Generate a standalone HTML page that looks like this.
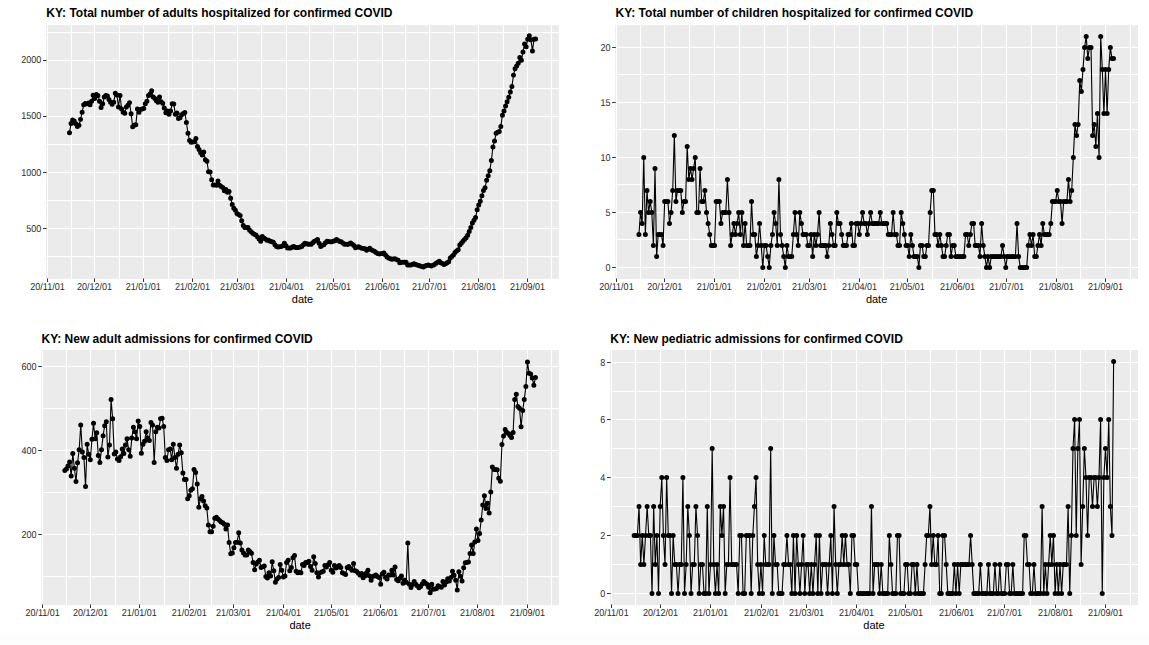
<!DOCTYPE html>
<html><head><meta charset="utf-8"><style>
html,body{margin:0;padding:0;background:#fff;}
svg{display:block;}
.ax{font-family:"Liberation Sans",sans-serif;font-size:10px;fill:#2a2a2a;text-rendering:geometricPrecision;}
.at{font-family:"Liberation Sans",sans-serif;font-size:11px;fill:#000;}
.ti{font-family:"Liberation Sans",sans-serif;font-size:12px;font-weight:bold;fill:#000;}
</style></head><body>
<svg width="1149" height="645" viewBox="0 0 1149 645">
<rect x="0" y="633" width="1149" height="12" fill="#FDFDFD"/>
<rect x="46" y="25" width="513" height="254" fill="#EBEBEB"/>
<path d="M71.5 25V279M119.5 25V279M168.5 25V279M214.5 25V279M261.5 25V279M309.5 25V279M357.5 25V279M405.5 25V279M454.5 25V279M503.5 25V279M551.5 25V279M46 256.5H559M46 200.5H559M46 144.5H559M46 88.5H559M46 32.5H559" stroke="#fff" stroke-width="1" fill="none"/>
<path d="M47.5 25V279M94.5 25V279M143.5 25V279M192.5 25V279M237.5 25V279M286.5 25V279M333.5 25V279M382.5 25V279M429.5 25V279M478.5 25V279M527.5 25V279M46 228.5H559M46 172.5H559M46 116.5H559M46 60.5H559" stroke="#fff" stroke-width="1" fill="none"/>
<path d="M47.5 278.4v3.6M94.5 278.4v3.6M143.5 278.4v3.6M192.5 278.4v3.6M237.5 278.4v3.6M286.5 278.4v3.6M333.5 278.4v3.6M382.5 278.4v3.6M429.5 278.4v3.6M478.5 278.4v3.6M527.5 278.4v3.6M46.6 228.5h-3.6M46.6 172.5h-3.6M46.6 116.5h-3.6M46.6 60.5h-3.6" stroke="#333" stroke-width="1" fill="none"/>
<text transform="translate(47.47 290.1) scale(0.9 1)" class="ax" text-anchor="middle">20/11/01</text>
<text transform="translate(94.54 290.1) scale(0.9 1)" class="ax" text-anchor="middle">20/12/01</text>
<text transform="translate(143.3 290.1) scale(0.9 1)" class="ax" text-anchor="middle">21/01/01</text>
<text transform="translate(192.4 290.1) scale(0.9 1)" class="ax" text-anchor="middle">21/02/01</text>
<text transform="translate(237.55 290.1) scale(0.9 1)" class="ax" text-anchor="middle">21/03/01</text>
<text transform="translate(286.5 290.1) scale(0.9 1)" class="ax" text-anchor="middle">21/04/01</text>
<text transform="translate(333.5 290.1) scale(0.9 1)" class="ax" text-anchor="middle">21/05/01</text>
<text transform="translate(382.4 290.1) scale(0.9 1)" class="ax" text-anchor="middle">21/06/01</text>
<text transform="translate(429.55 290.1) scale(0.9 1)" class="ax" text-anchor="middle">21/07/01</text>
<text transform="translate(478.65 290.1) scale(0.9 1)" class="ax" text-anchor="middle">21/08/01</text>
<text transform="translate(527.5 290.1) scale(0.9 1)" class="ax" text-anchor="middle">21/09/01</text>
<text transform="translate(41.2 232) scale(0.9 1)" class="ax" text-anchor="end">500</text>
<text transform="translate(41.2 176) scale(0.9 1)" class="ax" text-anchor="end">1000</text>
<text transform="translate(41.2 119) scale(0.9 1)" class="ax" text-anchor="end">1500</text>
<text transform="translate(41.2 63) scale(0.9 1)" class="ax" text-anchor="end">2000</text>
<text x="302.5" y="302.7" class="at" text-anchor="middle">date</text>
<text x="46.3" y="17" class="ti">KY: Total number of adults hospitalized for confirmed COVID</text>
<polyline points="69.48,132.83 71.06,123.43 72.64,119.99 74.22,121.03 75.8,123.77 77.38,126.51 78.96,125.21 80.54,119.46 82.12,112.36 83.7,104.63 85.28,103.59 86.86,103.8 88.44,102.96 90.02,104.84 91.6,101.19 93.18,95.23 94.76,98.58 96.34,94.4 97.92,95.44 99.5,101.19 101.08,107.45 102.66,103.8 104.24,97.01 105.82,95.44 107.4,95.97 108.98,99.62 110.56,102.23 112.14,104.32 113.72,102.23 115.3,93.36 116.88,94.92 118.46,106.93 120.04,95.44 121.62,109.02 123.2,112.15 124.78,113.2 126.36,106.93 127.94,105.37 129.52,102.75 131.1,113.72 132.68,126.78 134.26,125.21 135.84,124.69 137.42,109.02 139,112.15 140.58,109.54 142.16,109.02 143.74,108.5 145.32,103.8 146.9,101.19 148.48,95.44 150.06,93.88 151.64,90.74 153.22,97.01 154.8,98.58 156.38,100.67 157.96,102.23 159.54,97.01 161.12,101.71 162.7,103.28 164.28,107.98 165.86,112.68 167.44,111.11 169.02,114.24 170.6,110.98 172.18,103.8 173.76,104.1 175.34,114.24 176.92,112.93 178.5,118.6 180.08,117.83 181.66,114.73 183.24,113.57 184.82,112.4 186.4,122.48 187.98,133.33 189.56,140.62 191.14,142.17 192.72,142.02 194.3,141.86 195.88,138.45 197.46,146.51 199.04,149.61 200.62,152.71 202.2,155.04 203.78,151.94 205.37,159.69 206.95,161.24 208.53,171.63 210.11,172.09 211.69,179.84 213.27,184.96 214.85,185.12 216.43,185.27 218.01,180.93 219.59,185.27 221.17,186.43 222.75,187.6 224.33,190.7 225.91,189.61 227.49,192.17 229.07,191.47 230.65,198.17 232.23,204.62 233.81,208.28 235.39,210.37 236.97,213.5 238.55,214.54 240.13,215.59 241.71,220.81 243.29,225.51 244.87,227.6 246.45,227.6 248.03,227.6 249.61,230.21 251.19,231.78 252.77,233.34 254.35,234.13 255.93,234.91 257.51,237 259.09,239.09 260.67,241.17 262.25,236.48 263.83,238.04 265.41,239.09 266.99,240.13 268.57,240.13 270.15,241.17 271.73,241.7 273.31,242.22 274.89,244.83 276.47,246.4 278.05,246.92 279.63,246.66 281.21,246.4 282.79,245.87 284.37,243.26 285.95,245.87 287.53,247.96 289.11,247.96 290.69,247.96 292.27,246.92 293.85,246.4 295.43,247.44 297.01,247.44 298.59,247.44 300.17,246.92 301.75,246.4 303.33,244.83 304.91,243.26 306.49,243.79 308.07,244.31 309.65,244.31 311.23,244.31 312.81,242.74 314.39,241.17 315.97,240.39 317.55,239.61 319.13,243.26 320.71,246.4 322.29,245.61 323.87,244.83 325.45,242.74 327.03,241.17 328.61,241.44 330.19,241.7 331.77,241.7 333.35,241.17 334.93,240.65 336.51,239.61 338.09,240.58 339.67,241.55 341.25,241.7 342.83,242.98 344.41,244.16 345.99,244.35 347.57,244.54 349.15,243.76 350.73,242.98 352.31,244.28 353.89,245.59 355.47,247.68 357.05,247.15 358.63,246.63 360.21,247.42 361.79,248.2 363.38,248.46 364.96,248.72 366.54,250.29 368.12,249.24 369.7,248.2 371.28,249.77 372.86,250.55 374.44,251.33 376.02,252.38 377.6,253.42 379.18,253.94 380.76,253.68 382.34,253.42 383.92,252.9 385.5,254.99 387.08,257.08 388.66,258.12 390.24,258.64 391.82,259.16 393.4,258.9 394.98,258.64 396.56,259.43 398.14,260.21 399.72,262.82 401.3,262.56 402.88,262.3 404.46,262.3 406.04,262.3 407.62,264.91 409.2,264.91 410.78,264.91 412.36,264.39 413.94,263.86 415.52,264.39 417.1,264.91 418.68,265.43 420.26,265.95 421.84,266.48 423.42,267 425,265.95 426.58,265.43 428.16,264.91 429.74,265.43 431.32,265.95 432.9,265.17 434.48,264.39 436.06,263.34 437.64,262.3 439.22,261.25 440.8,262.82 442.38,263.6 443.96,264.39 445.54,263.86 447.12,262.82 448.7,261.78 450.28,258.12 451.86,256.55 453.44,254.99 455.02,252.38 456.6,251.07 458.18,249.77 459.76,245.07 461.34,243.22 462.92,241.37 464.5,239.52 466.08,237.67 467.66,235.35 469.24,231.47 470.82,227.6 472.4,222.95 473.98,220.23 475.56,217.52 477.14,209.77 478.72,205.12 480.3,201.24 481.88,195.81 483.46,190.39 485.04,187.75 486.62,180.31 488.2,175.66 489.78,170.7 491.36,160.47 492.94,146.98 494.52,141.03 496.1,133.28 497.68,132.35 499.26,131.42 500.84,126.4 502.42,115.23 504,110.95 505.58,105.93 507.16,101.65 508.74,97.19 510.32,91.98 511.9,86.4 513.48,75.23 515.06,68.72 516.64,65.93 518.22,63.14 519.8,57.56 521.38,60.35 522.97,51.9 524.55,44 526.13,46.7 527.71,39.3 529.29,35.8 530.87,39.7 532.45,50.9 534.03,39.3 535.61,39.1" fill="none" stroke="#000" stroke-width="1.1" stroke-linejoin="round"/>
<path d="M66.98 132.83a2.5 2.5 0 1 0 5 0a2.5 2.5 0 1 0 -5 0M68.56 123.43a2.5 2.5 0 1 0 5 0a2.5 2.5 0 1 0 -5 0M70.14 119.99a2.5 2.5 0 1 0 5 0a2.5 2.5 0 1 0 -5 0M71.72 121.03a2.5 2.5 0 1 0 5 0a2.5 2.5 0 1 0 -5 0M73.3 123.77a2.5 2.5 0 1 0 5 0a2.5 2.5 0 1 0 -5 0M74.88 126.51a2.5 2.5 0 1 0 5 0a2.5 2.5 0 1 0 -5 0M76.46 125.21a2.5 2.5 0 1 0 5 0a2.5 2.5 0 1 0 -5 0M78.04 119.46a2.5 2.5 0 1 0 5 0a2.5 2.5 0 1 0 -5 0M79.62 112.36a2.5 2.5 0 1 0 5 0a2.5 2.5 0 1 0 -5 0M81.2 104.63a2.5 2.5 0 1 0 5 0a2.5 2.5 0 1 0 -5 0M82.78 103.59a2.5 2.5 0 1 0 5 0a2.5 2.5 0 1 0 -5 0M84.36 103.8a2.5 2.5 0 1 0 5 0a2.5 2.5 0 1 0 -5 0M85.94 102.96a2.5 2.5 0 1 0 5 0a2.5 2.5 0 1 0 -5 0M87.52 104.84a2.5 2.5 0 1 0 5 0a2.5 2.5 0 1 0 -5 0M89.1 101.19a2.5 2.5 0 1 0 5 0a2.5 2.5 0 1 0 -5 0M90.68 95.23a2.5 2.5 0 1 0 5 0a2.5 2.5 0 1 0 -5 0M92.26 98.58a2.5 2.5 0 1 0 5 0a2.5 2.5 0 1 0 -5 0M93.84 94.4a2.5 2.5 0 1 0 5 0a2.5 2.5 0 1 0 -5 0M95.42 95.44a2.5 2.5 0 1 0 5 0a2.5 2.5 0 1 0 -5 0M97 101.19a2.5 2.5 0 1 0 5 0a2.5 2.5 0 1 0 -5 0M98.58 107.45a2.5 2.5 0 1 0 5 0a2.5 2.5 0 1 0 -5 0M100.16 103.8a2.5 2.5 0 1 0 5 0a2.5 2.5 0 1 0 -5 0M101.74 97.01a2.5 2.5 0 1 0 5 0a2.5 2.5 0 1 0 -5 0M103.32 95.44a2.5 2.5 0 1 0 5 0a2.5 2.5 0 1 0 -5 0M104.9 95.97a2.5 2.5 0 1 0 5 0a2.5 2.5 0 1 0 -5 0M106.48 99.62a2.5 2.5 0 1 0 5 0a2.5 2.5 0 1 0 -5 0M108.06 102.23a2.5 2.5 0 1 0 5 0a2.5 2.5 0 1 0 -5 0M109.64 104.32a2.5 2.5 0 1 0 5 0a2.5 2.5 0 1 0 -5 0M111.22 102.23a2.5 2.5 0 1 0 5 0a2.5 2.5 0 1 0 -5 0M112.8 93.36a2.5 2.5 0 1 0 5 0a2.5 2.5 0 1 0 -5 0M114.38 94.92a2.5 2.5 0 1 0 5 0a2.5 2.5 0 1 0 -5 0M115.96 106.93a2.5 2.5 0 1 0 5 0a2.5 2.5 0 1 0 -5 0M117.54 95.44a2.5 2.5 0 1 0 5 0a2.5 2.5 0 1 0 -5 0M119.12 109.02a2.5 2.5 0 1 0 5 0a2.5 2.5 0 1 0 -5 0M120.7 112.15a2.5 2.5 0 1 0 5 0a2.5 2.5 0 1 0 -5 0M122.28 113.2a2.5 2.5 0 1 0 5 0a2.5 2.5 0 1 0 -5 0M123.86 106.93a2.5 2.5 0 1 0 5 0a2.5 2.5 0 1 0 -5 0M125.44 105.37a2.5 2.5 0 1 0 5 0a2.5 2.5 0 1 0 -5 0M127.02 102.75a2.5 2.5 0 1 0 5 0a2.5 2.5 0 1 0 -5 0M128.6 113.72a2.5 2.5 0 1 0 5 0a2.5 2.5 0 1 0 -5 0M130.18 126.78a2.5 2.5 0 1 0 5 0a2.5 2.5 0 1 0 -5 0M131.76 125.21a2.5 2.5 0 1 0 5 0a2.5 2.5 0 1 0 -5 0M133.34 124.69a2.5 2.5 0 1 0 5 0a2.5 2.5 0 1 0 -5 0M134.92 109.02a2.5 2.5 0 1 0 5 0a2.5 2.5 0 1 0 -5 0M136.5 112.15a2.5 2.5 0 1 0 5 0a2.5 2.5 0 1 0 -5 0M138.08 109.54a2.5 2.5 0 1 0 5 0a2.5 2.5 0 1 0 -5 0M139.66 109.02a2.5 2.5 0 1 0 5 0a2.5 2.5 0 1 0 -5 0M141.24 108.5a2.5 2.5 0 1 0 5 0a2.5 2.5 0 1 0 -5 0M142.82 103.8a2.5 2.5 0 1 0 5 0a2.5 2.5 0 1 0 -5 0M144.4 101.19a2.5 2.5 0 1 0 5 0a2.5 2.5 0 1 0 -5 0M145.98 95.44a2.5 2.5 0 1 0 5 0a2.5 2.5 0 1 0 -5 0M147.56 93.88a2.5 2.5 0 1 0 5 0a2.5 2.5 0 1 0 -5 0M149.14 90.74a2.5 2.5 0 1 0 5 0a2.5 2.5 0 1 0 -5 0M150.72 97.01a2.5 2.5 0 1 0 5 0a2.5 2.5 0 1 0 -5 0M152.3 98.58a2.5 2.5 0 1 0 5 0a2.5 2.5 0 1 0 -5 0M153.88 100.67a2.5 2.5 0 1 0 5 0a2.5 2.5 0 1 0 -5 0M155.46 102.23a2.5 2.5 0 1 0 5 0a2.5 2.5 0 1 0 -5 0M157.04 97.01a2.5 2.5 0 1 0 5 0a2.5 2.5 0 1 0 -5 0M158.62 101.71a2.5 2.5 0 1 0 5 0a2.5 2.5 0 1 0 -5 0M160.2 103.28a2.5 2.5 0 1 0 5 0a2.5 2.5 0 1 0 -5 0M161.78 107.98a2.5 2.5 0 1 0 5 0a2.5 2.5 0 1 0 -5 0M163.36 112.68a2.5 2.5 0 1 0 5 0a2.5 2.5 0 1 0 -5 0M164.94 111.11a2.5 2.5 0 1 0 5 0a2.5 2.5 0 1 0 -5 0M166.52 114.24a2.5 2.5 0 1 0 5 0a2.5 2.5 0 1 0 -5 0M168.1 110.98a2.5 2.5 0 1 0 5 0a2.5 2.5 0 1 0 -5 0M169.68 103.8a2.5 2.5 0 1 0 5 0a2.5 2.5 0 1 0 -5 0M171.26 104.1a2.5 2.5 0 1 0 5 0a2.5 2.5 0 1 0 -5 0M172.84 114.24a2.5 2.5 0 1 0 5 0a2.5 2.5 0 1 0 -5 0M174.42 112.93a2.5 2.5 0 1 0 5 0a2.5 2.5 0 1 0 -5 0M176 118.6a2.5 2.5 0 1 0 5 0a2.5 2.5 0 1 0 -5 0M177.58 117.83a2.5 2.5 0 1 0 5 0a2.5 2.5 0 1 0 -5 0M179.16 114.73a2.5 2.5 0 1 0 5 0a2.5 2.5 0 1 0 -5 0M180.74 113.57a2.5 2.5 0 1 0 5 0a2.5 2.5 0 1 0 -5 0M182.32 112.4a2.5 2.5 0 1 0 5 0a2.5 2.5 0 1 0 -5 0M183.9 122.48a2.5 2.5 0 1 0 5 0a2.5 2.5 0 1 0 -5 0M185.48 133.33a2.5 2.5 0 1 0 5 0a2.5 2.5 0 1 0 -5 0M187.06 140.62a2.5 2.5 0 1 0 5 0a2.5 2.5 0 1 0 -5 0M188.64 142.17a2.5 2.5 0 1 0 5 0a2.5 2.5 0 1 0 -5 0M190.22 142.02a2.5 2.5 0 1 0 5 0a2.5 2.5 0 1 0 -5 0M191.8 141.86a2.5 2.5 0 1 0 5 0a2.5 2.5 0 1 0 -5 0M193.38 138.45a2.5 2.5 0 1 0 5 0a2.5 2.5 0 1 0 -5 0M194.96 146.51a2.5 2.5 0 1 0 5 0a2.5 2.5 0 1 0 -5 0M196.54 149.61a2.5 2.5 0 1 0 5 0a2.5 2.5 0 1 0 -5 0M198.12 152.71a2.5 2.5 0 1 0 5 0a2.5 2.5 0 1 0 -5 0M199.7 155.04a2.5 2.5 0 1 0 5 0a2.5 2.5 0 1 0 -5 0M201.28 151.94a2.5 2.5 0 1 0 5 0a2.5 2.5 0 1 0 -5 0M202.87 159.69a2.5 2.5 0 1 0 5 0a2.5 2.5 0 1 0 -5 0M204.45 161.24a2.5 2.5 0 1 0 5 0a2.5 2.5 0 1 0 -5 0M206.03 171.63a2.5 2.5 0 1 0 5 0a2.5 2.5 0 1 0 -5 0M207.61 172.09a2.5 2.5 0 1 0 5 0a2.5 2.5 0 1 0 -5 0M209.19 179.84a2.5 2.5 0 1 0 5 0a2.5 2.5 0 1 0 -5 0M210.77 184.96a2.5 2.5 0 1 0 5 0a2.5 2.5 0 1 0 -5 0M212.35 185.12a2.5 2.5 0 1 0 5 0a2.5 2.5 0 1 0 -5 0M213.93 185.27a2.5 2.5 0 1 0 5 0a2.5 2.5 0 1 0 -5 0M215.51 180.93a2.5 2.5 0 1 0 5 0a2.5 2.5 0 1 0 -5 0M217.09 185.27a2.5 2.5 0 1 0 5 0a2.5 2.5 0 1 0 -5 0M218.67 186.43a2.5 2.5 0 1 0 5 0a2.5 2.5 0 1 0 -5 0M220.25 187.6a2.5 2.5 0 1 0 5 0a2.5 2.5 0 1 0 -5 0M221.83 190.7a2.5 2.5 0 1 0 5 0a2.5 2.5 0 1 0 -5 0M223.41 189.61a2.5 2.5 0 1 0 5 0a2.5 2.5 0 1 0 -5 0M224.99 192.17a2.5 2.5 0 1 0 5 0a2.5 2.5 0 1 0 -5 0M226.57 191.47a2.5 2.5 0 1 0 5 0a2.5 2.5 0 1 0 -5 0M228.15 198.17a2.5 2.5 0 1 0 5 0a2.5 2.5 0 1 0 -5 0M229.73 204.62a2.5 2.5 0 1 0 5 0a2.5 2.5 0 1 0 -5 0M231.31 208.28a2.5 2.5 0 1 0 5 0a2.5 2.5 0 1 0 -5 0M232.89 210.37a2.5 2.5 0 1 0 5 0a2.5 2.5 0 1 0 -5 0M234.47 213.5a2.5 2.5 0 1 0 5 0a2.5 2.5 0 1 0 -5 0M236.05 214.54a2.5 2.5 0 1 0 5 0a2.5 2.5 0 1 0 -5 0M237.63 215.59a2.5 2.5 0 1 0 5 0a2.5 2.5 0 1 0 -5 0M239.21 220.81a2.5 2.5 0 1 0 5 0a2.5 2.5 0 1 0 -5 0M240.79 225.51a2.5 2.5 0 1 0 5 0a2.5 2.5 0 1 0 -5 0M242.37 227.6a2.5 2.5 0 1 0 5 0a2.5 2.5 0 1 0 -5 0M243.95 227.6a2.5 2.5 0 1 0 5 0a2.5 2.5 0 1 0 -5 0M245.53 227.6a2.5 2.5 0 1 0 5 0a2.5 2.5 0 1 0 -5 0M247.11 230.21a2.5 2.5 0 1 0 5 0a2.5 2.5 0 1 0 -5 0M248.69 231.78a2.5 2.5 0 1 0 5 0a2.5 2.5 0 1 0 -5 0M250.27 233.34a2.5 2.5 0 1 0 5 0a2.5 2.5 0 1 0 -5 0M251.85 234.13a2.5 2.5 0 1 0 5 0a2.5 2.5 0 1 0 -5 0M253.43 234.91a2.5 2.5 0 1 0 5 0a2.5 2.5 0 1 0 -5 0M255.01 237a2.5 2.5 0 1 0 5 0a2.5 2.5 0 1 0 -5 0M256.59 239.09a2.5 2.5 0 1 0 5 0a2.5 2.5 0 1 0 -5 0M258.17 241.17a2.5 2.5 0 1 0 5 0a2.5 2.5 0 1 0 -5 0M259.75 236.48a2.5 2.5 0 1 0 5 0a2.5 2.5 0 1 0 -5 0M261.33 238.04a2.5 2.5 0 1 0 5 0a2.5 2.5 0 1 0 -5 0M262.91 239.09a2.5 2.5 0 1 0 5 0a2.5 2.5 0 1 0 -5 0M264.49 240.13a2.5 2.5 0 1 0 5 0a2.5 2.5 0 1 0 -5 0M266.07 240.13a2.5 2.5 0 1 0 5 0a2.5 2.5 0 1 0 -5 0M267.65 241.17a2.5 2.5 0 1 0 5 0a2.5 2.5 0 1 0 -5 0M269.23 241.7a2.5 2.5 0 1 0 5 0a2.5 2.5 0 1 0 -5 0M270.81 242.22a2.5 2.5 0 1 0 5 0a2.5 2.5 0 1 0 -5 0M272.39 244.83a2.5 2.5 0 1 0 5 0a2.5 2.5 0 1 0 -5 0M273.97 246.4a2.5 2.5 0 1 0 5 0a2.5 2.5 0 1 0 -5 0M275.55 246.92a2.5 2.5 0 1 0 5 0a2.5 2.5 0 1 0 -5 0M277.13 246.66a2.5 2.5 0 1 0 5 0a2.5 2.5 0 1 0 -5 0M278.71 246.4a2.5 2.5 0 1 0 5 0a2.5 2.5 0 1 0 -5 0M280.29 245.87a2.5 2.5 0 1 0 5 0a2.5 2.5 0 1 0 -5 0M281.87 243.26a2.5 2.5 0 1 0 5 0a2.5 2.5 0 1 0 -5 0M283.45 245.87a2.5 2.5 0 1 0 5 0a2.5 2.5 0 1 0 -5 0M285.03 247.96a2.5 2.5 0 1 0 5 0a2.5 2.5 0 1 0 -5 0M286.61 247.96a2.5 2.5 0 1 0 5 0a2.5 2.5 0 1 0 -5 0M288.19 247.96a2.5 2.5 0 1 0 5 0a2.5 2.5 0 1 0 -5 0M289.77 246.92a2.5 2.5 0 1 0 5 0a2.5 2.5 0 1 0 -5 0M291.35 246.4a2.5 2.5 0 1 0 5 0a2.5 2.5 0 1 0 -5 0M292.93 247.44a2.5 2.5 0 1 0 5 0a2.5 2.5 0 1 0 -5 0M294.51 247.44a2.5 2.5 0 1 0 5 0a2.5 2.5 0 1 0 -5 0M296.09 247.44a2.5 2.5 0 1 0 5 0a2.5 2.5 0 1 0 -5 0M297.67 246.92a2.5 2.5 0 1 0 5 0a2.5 2.5 0 1 0 -5 0M299.25 246.4a2.5 2.5 0 1 0 5 0a2.5 2.5 0 1 0 -5 0M300.83 244.83a2.5 2.5 0 1 0 5 0a2.5 2.5 0 1 0 -5 0M302.41 243.26a2.5 2.5 0 1 0 5 0a2.5 2.5 0 1 0 -5 0M303.99 243.79a2.5 2.5 0 1 0 5 0a2.5 2.5 0 1 0 -5 0M305.57 244.31a2.5 2.5 0 1 0 5 0a2.5 2.5 0 1 0 -5 0M307.15 244.31a2.5 2.5 0 1 0 5 0a2.5 2.5 0 1 0 -5 0M308.73 244.31a2.5 2.5 0 1 0 5 0a2.5 2.5 0 1 0 -5 0M310.31 242.74a2.5 2.5 0 1 0 5 0a2.5 2.5 0 1 0 -5 0M311.89 241.17a2.5 2.5 0 1 0 5 0a2.5 2.5 0 1 0 -5 0M313.47 240.39a2.5 2.5 0 1 0 5 0a2.5 2.5 0 1 0 -5 0M315.05 239.61a2.5 2.5 0 1 0 5 0a2.5 2.5 0 1 0 -5 0M316.63 243.26a2.5 2.5 0 1 0 5 0a2.5 2.5 0 1 0 -5 0M318.21 246.4a2.5 2.5 0 1 0 5 0a2.5 2.5 0 1 0 -5 0M319.79 245.61a2.5 2.5 0 1 0 5 0a2.5 2.5 0 1 0 -5 0M321.37 244.83a2.5 2.5 0 1 0 5 0a2.5 2.5 0 1 0 -5 0M322.95 242.74a2.5 2.5 0 1 0 5 0a2.5 2.5 0 1 0 -5 0M324.53 241.17a2.5 2.5 0 1 0 5 0a2.5 2.5 0 1 0 -5 0M326.11 241.44a2.5 2.5 0 1 0 5 0a2.5 2.5 0 1 0 -5 0M327.69 241.7a2.5 2.5 0 1 0 5 0a2.5 2.5 0 1 0 -5 0M329.27 241.7a2.5 2.5 0 1 0 5 0a2.5 2.5 0 1 0 -5 0M330.85 241.17a2.5 2.5 0 1 0 5 0a2.5 2.5 0 1 0 -5 0M332.43 240.65a2.5 2.5 0 1 0 5 0a2.5 2.5 0 1 0 -5 0M334.01 239.61a2.5 2.5 0 1 0 5 0a2.5 2.5 0 1 0 -5 0M335.59 240.58a2.5 2.5 0 1 0 5 0a2.5 2.5 0 1 0 -5 0M337.17 241.55a2.5 2.5 0 1 0 5 0a2.5 2.5 0 1 0 -5 0M338.75 241.7a2.5 2.5 0 1 0 5 0a2.5 2.5 0 1 0 -5 0M340.33 242.98a2.5 2.5 0 1 0 5 0a2.5 2.5 0 1 0 -5 0M341.91 244.16a2.5 2.5 0 1 0 5 0a2.5 2.5 0 1 0 -5 0M343.49 244.35a2.5 2.5 0 1 0 5 0a2.5 2.5 0 1 0 -5 0M345.07 244.54a2.5 2.5 0 1 0 5 0a2.5 2.5 0 1 0 -5 0M346.65 243.76a2.5 2.5 0 1 0 5 0a2.5 2.5 0 1 0 -5 0M348.23 242.98a2.5 2.5 0 1 0 5 0a2.5 2.5 0 1 0 -5 0M349.81 244.28a2.5 2.5 0 1 0 5 0a2.5 2.5 0 1 0 -5 0M351.39 245.59a2.5 2.5 0 1 0 5 0a2.5 2.5 0 1 0 -5 0M352.97 247.68a2.5 2.5 0 1 0 5 0a2.5 2.5 0 1 0 -5 0M354.55 247.15a2.5 2.5 0 1 0 5 0a2.5 2.5 0 1 0 -5 0M356.13 246.63a2.5 2.5 0 1 0 5 0a2.5 2.5 0 1 0 -5 0M357.71 247.42a2.5 2.5 0 1 0 5 0a2.5 2.5 0 1 0 -5 0M359.29 248.2a2.5 2.5 0 1 0 5 0a2.5 2.5 0 1 0 -5 0M360.88 248.46a2.5 2.5 0 1 0 5 0a2.5 2.5 0 1 0 -5 0M362.46 248.72a2.5 2.5 0 1 0 5 0a2.5 2.5 0 1 0 -5 0M364.04 250.29a2.5 2.5 0 1 0 5 0a2.5 2.5 0 1 0 -5 0M365.62 249.24a2.5 2.5 0 1 0 5 0a2.5 2.5 0 1 0 -5 0M367.2 248.2a2.5 2.5 0 1 0 5 0a2.5 2.5 0 1 0 -5 0M368.78 249.77a2.5 2.5 0 1 0 5 0a2.5 2.5 0 1 0 -5 0M370.36 250.55a2.5 2.5 0 1 0 5 0a2.5 2.5 0 1 0 -5 0M371.94 251.33a2.5 2.5 0 1 0 5 0a2.5 2.5 0 1 0 -5 0M373.52 252.38a2.5 2.5 0 1 0 5 0a2.5 2.5 0 1 0 -5 0M375.1 253.42a2.5 2.5 0 1 0 5 0a2.5 2.5 0 1 0 -5 0M376.68 253.94a2.5 2.5 0 1 0 5 0a2.5 2.5 0 1 0 -5 0M378.26 253.68a2.5 2.5 0 1 0 5 0a2.5 2.5 0 1 0 -5 0M379.84 253.42a2.5 2.5 0 1 0 5 0a2.5 2.5 0 1 0 -5 0M381.42 252.9a2.5 2.5 0 1 0 5 0a2.5 2.5 0 1 0 -5 0M383 254.99a2.5 2.5 0 1 0 5 0a2.5 2.5 0 1 0 -5 0M384.58 257.08a2.5 2.5 0 1 0 5 0a2.5 2.5 0 1 0 -5 0M386.16 258.12a2.5 2.5 0 1 0 5 0a2.5 2.5 0 1 0 -5 0M387.74 258.64a2.5 2.5 0 1 0 5 0a2.5 2.5 0 1 0 -5 0M389.32 259.16a2.5 2.5 0 1 0 5 0a2.5 2.5 0 1 0 -5 0M390.9 258.9a2.5 2.5 0 1 0 5 0a2.5 2.5 0 1 0 -5 0M392.48 258.64a2.5 2.5 0 1 0 5 0a2.5 2.5 0 1 0 -5 0M394.06 259.43a2.5 2.5 0 1 0 5 0a2.5 2.5 0 1 0 -5 0M395.64 260.21a2.5 2.5 0 1 0 5 0a2.5 2.5 0 1 0 -5 0M397.22 262.82a2.5 2.5 0 1 0 5 0a2.5 2.5 0 1 0 -5 0M398.8 262.56a2.5 2.5 0 1 0 5 0a2.5 2.5 0 1 0 -5 0M400.38 262.3a2.5 2.5 0 1 0 5 0a2.5 2.5 0 1 0 -5 0M401.96 262.3a2.5 2.5 0 1 0 5 0a2.5 2.5 0 1 0 -5 0M403.54 262.3a2.5 2.5 0 1 0 5 0a2.5 2.5 0 1 0 -5 0M405.12 264.91a2.5 2.5 0 1 0 5 0a2.5 2.5 0 1 0 -5 0M406.7 264.91a2.5 2.5 0 1 0 5 0a2.5 2.5 0 1 0 -5 0M408.28 264.91a2.5 2.5 0 1 0 5 0a2.5 2.5 0 1 0 -5 0M409.86 264.39a2.5 2.5 0 1 0 5 0a2.5 2.5 0 1 0 -5 0M411.44 263.86a2.5 2.5 0 1 0 5 0a2.5 2.5 0 1 0 -5 0M413.02 264.39a2.5 2.5 0 1 0 5 0a2.5 2.5 0 1 0 -5 0M414.6 264.91a2.5 2.5 0 1 0 5 0a2.5 2.5 0 1 0 -5 0M416.18 265.43a2.5 2.5 0 1 0 5 0a2.5 2.5 0 1 0 -5 0M417.76 265.95a2.5 2.5 0 1 0 5 0a2.5 2.5 0 1 0 -5 0M419.34 266.48a2.5 2.5 0 1 0 5 0a2.5 2.5 0 1 0 -5 0M420.92 267a2.5 2.5 0 1 0 5 0a2.5 2.5 0 1 0 -5 0M422.5 265.95a2.5 2.5 0 1 0 5 0a2.5 2.5 0 1 0 -5 0M424.08 265.43a2.5 2.5 0 1 0 5 0a2.5 2.5 0 1 0 -5 0M425.66 264.91a2.5 2.5 0 1 0 5 0a2.5 2.5 0 1 0 -5 0M427.24 265.43a2.5 2.5 0 1 0 5 0a2.5 2.5 0 1 0 -5 0M428.82 265.95a2.5 2.5 0 1 0 5 0a2.5 2.5 0 1 0 -5 0M430.4 265.17a2.5 2.5 0 1 0 5 0a2.5 2.5 0 1 0 -5 0M431.98 264.39a2.5 2.5 0 1 0 5 0a2.5 2.5 0 1 0 -5 0M433.56 263.34a2.5 2.5 0 1 0 5 0a2.5 2.5 0 1 0 -5 0M435.14 262.3a2.5 2.5 0 1 0 5 0a2.5 2.5 0 1 0 -5 0M436.72 261.25a2.5 2.5 0 1 0 5 0a2.5 2.5 0 1 0 -5 0M438.3 262.82a2.5 2.5 0 1 0 5 0a2.5 2.5 0 1 0 -5 0M439.88 263.6a2.5 2.5 0 1 0 5 0a2.5 2.5 0 1 0 -5 0M441.46 264.39a2.5 2.5 0 1 0 5 0a2.5 2.5 0 1 0 -5 0M443.04 263.86a2.5 2.5 0 1 0 5 0a2.5 2.5 0 1 0 -5 0M444.62 262.82a2.5 2.5 0 1 0 5 0a2.5 2.5 0 1 0 -5 0M446.2 261.78a2.5 2.5 0 1 0 5 0a2.5 2.5 0 1 0 -5 0M447.78 258.12a2.5 2.5 0 1 0 5 0a2.5 2.5 0 1 0 -5 0M449.36 256.55a2.5 2.5 0 1 0 5 0a2.5 2.5 0 1 0 -5 0M450.94 254.99a2.5 2.5 0 1 0 5 0a2.5 2.5 0 1 0 -5 0M452.52 252.38a2.5 2.5 0 1 0 5 0a2.5 2.5 0 1 0 -5 0M454.1 251.07a2.5 2.5 0 1 0 5 0a2.5 2.5 0 1 0 -5 0M455.68 249.77a2.5 2.5 0 1 0 5 0a2.5 2.5 0 1 0 -5 0M457.26 245.07a2.5 2.5 0 1 0 5 0a2.5 2.5 0 1 0 -5 0M458.84 243.22a2.5 2.5 0 1 0 5 0a2.5 2.5 0 1 0 -5 0M460.42 241.37a2.5 2.5 0 1 0 5 0a2.5 2.5 0 1 0 -5 0M462 239.52a2.5 2.5 0 1 0 5 0a2.5 2.5 0 1 0 -5 0M463.58 237.67a2.5 2.5 0 1 0 5 0a2.5 2.5 0 1 0 -5 0M465.16 235.35a2.5 2.5 0 1 0 5 0a2.5 2.5 0 1 0 -5 0M466.74 231.47a2.5 2.5 0 1 0 5 0a2.5 2.5 0 1 0 -5 0M468.32 227.6a2.5 2.5 0 1 0 5 0a2.5 2.5 0 1 0 -5 0M469.9 222.95a2.5 2.5 0 1 0 5 0a2.5 2.5 0 1 0 -5 0M471.48 220.23a2.5 2.5 0 1 0 5 0a2.5 2.5 0 1 0 -5 0M473.06 217.52a2.5 2.5 0 1 0 5 0a2.5 2.5 0 1 0 -5 0M474.64 209.77a2.5 2.5 0 1 0 5 0a2.5 2.5 0 1 0 -5 0M476.22 205.12a2.5 2.5 0 1 0 5 0a2.5 2.5 0 1 0 -5 0M477.8 201.24a2.5 2.5 0 1 0 5 0a2.5 2.5 0 1 0 -5 0M479.38 195.81a2.5 2.5 0 1 0 5 0a2.5 2.5 0 1 0 -5 0M480.96 190.39a2.5 2.5 0 1 0 5 0a2.5 2.5 0 1 0 -5 0M482.54 187.75a2.5 2.5 0 1 0 5 0a2.5 2.5 0 1 0 -5 0M484.12 180.31a2.5 2.5 0 1 0 5 0a2.5 2.5 0 1 0 -5 0M485.7 175.66a2.5 2.5 0 1 0 5 0a2.5 2.5 0 1 0 -5 0M487.28 170.7a2.5 2.5 0 1 0 5 0a2.5 2.5 0 1 0 -5 0M488.86 160.47a2.5 2.5 0 1 0 5 0a2.5 2.5 0 1 0 -5 0M490.44 146.98a2.5 2.5 0 1 0 5 0a2.5 2.5 0 1 0 -5 0M492.02 141.03a2.5 2.5 0 1 0 5 0a2.5 2.5 0 1 0 -5 0M493.6 133.28a2.5 2.5 0 1 0 5 0a2.5 2.5 0 1 0 -5 0M495.18 132.35a2.5 2.5 0 1 0 5 0a2.5 2.5 0 1 0 -5 0M496.76 131.42a2.5 2.5 0 1 0 5 0a2.5 2.5 0 1 0 -5 0M498.34 126.4a2.5 2.5 0 1 0 5 0a2.5 2.5 0 1 0 -5 0M499.92 115.23a2.5 2.5 0 1 0 5 0a2.5 2.5 0 1 0 -5 0M501.5 110.95a2.5 2.5 0 1 0 5 0a2.5 2.5 0 1 0 -5 0M503.08 105.93a2.5 2.5 0 1 0 5 0a2.5 2.5 0 1 0 -5 0M504.66 101.65a2.5 2.5 0 1 0 5 0a2.5 2.5 0 1 0 -5 0M506.24 97.19a2.5 2.5 0 1 0 5 0a2.5 2.5 0 1 0 -5 0M507.82 91.98a2.5 2.5 0 1 0 5 0a2.5 2.5 0 1 0 -5 0M509.4 86.4a2.5 2.5 0 1 0 5 0a2.5 2.5 0 1 0 -5 0M510.98 75.23a2.5 2.5 0 1 0 5 0a2.5 2.5 0 1 0 -5 0M512.56 68.72a2.5 2.5 0 1 0 5 0a2.5 2.5 0 1 0 -5 0M514.14 65.93a2.5 2.5 0 1 0 5 0a2.5 2.5 0 1 0 -5 0M515.72 63.14a2.5 2.5 0 1 0 5 0a2.5 2.5 0 1 0 -5 0M517.3 57.56a2.5 2.5 0 1 0 5 0a2.5 2.5 0 1 0 -5 0M518.88 60.35a2.5 2.5 0 1 0 5 0a2.5 2.5 0 1 0 -5 0M520.47 51.9a2.5 2.5 0 1 0 5 0a2.5 2.5 0 1 0 -5 0M522.05 44a2.5 2.5 0 1 0 5 0a2.5 2.5 0 1 0 -5 0M523.63 46.7a2.5 2.5 0 1 0 5 0a2.5 2.5 0 1 0 -5 0M525.21 39.3a2.5 2.5 0 1 0 5 0a2.5 2.5 0 1 0 -5 0M526.79 35.8a2.5 2.5 0 1 0 5 0a2.5 2.5 0 1 0 -5 0M528.37 39.7a2.5 2.5 0 1 0 5 0a2.5 2.5 0 1 0 -5 0M529.95 50.9a2.5 2.5 0 1 0 5 0a2.5 2.5 0 1 0 -5 0M531.53 39.3a2.5 2.5 0 1 0 5 0a2.5 2.5 0 1 0 -5 0M533.11 39.1a2.5 2.5 0 1 0 5 0a2.5 2.5 0 1 0 -5 0" fill="#000"/>
<rect x="615.2" y="25" width="522.8" height="254" fill="#EBEBEB"/>
<path d="M640.5 25V279M689.5 25V279M739.5 25V279M787.5 25V279M834.5 25V279M883.5 25V279M932.5 25V279M981.5 25V279M1031.5 25V279M1080.5 25V279M1130.5 25V279M615.2 239.5H1138M615.2 184.5H1138M615.2 129.5H1138M615.2 74.5H1138" stroke="#fff" stroke-width="1" fill="none"/>
<path d="M616.5 25V279M664.5 25V279M714.5 25V279M764.5 25V279M809.5 25V279M859.5 25V279M907.5 25V279M957.5 25V279M1006.5 25V279M1056.5 25V279M1105.5 25V279M615.2 267.5H1138M615.2 212.5H1138M615.2 157.5H1138M615.2 102.5H1138M615.2 47.5H1138" stroke="#fff" stroke-width="1" fill="none"/>
<path d="M616.5 278.4v3.6M664.5 278.4v3.6M714.5 278.4v3.6M764.5 278.4v3.6M809.5 278.4v3.6M859.5 278.4v3.6M907.5 278.4v3.6M957.5 278.4v3.6M1006.5 278.4v3.6M1056.5 278.4v3.6M1105.5 278.4v3.6M615.8 267.5h-3.6M615.8 212.5h-3.6M615.8 157.5h-3.6M615.8 102.5h-3.6M615.8 47.5h-3.6" stroke="#333" stroke-width="1" fill="none"/>
<text transform="translate(616.45 290.1) scale(0.9 1)" class="ax" text-anchor="middle">20/11/01</text>
<text transform="translate(664.65 290.1) scale(0.9 1)" class="ax" text-anchor="middle">20/12/01</text>
<text transform="translate(714.3 290.1) scale(0.9 1)" class="ax" text-anchor="middle">21/01/01</text>
<text transform="translate(764.3 290.1) scale(0.9 1)" class="ax" text-anchor="middle">21/02/01</text>
<text transform="translate(809.4 290.1) scale(0.9 1)" class="ax" text-anchor="middle">21/03/01</text>
<text transform="translate(859.6 290.1) scale(0.9 1)" class="ax" text-anchor="middle">21/04/01</text>
<text transform="translate(907.3 290.1) scale(0.9 1)" class="ax" text-anchor="middle">21/05/01</text>
<text transform="translate(957.5 290.1) scale(0.9 1)" class="ax" text-anchor="middle">21/06/01</text>
<text transform="translate(1006.45 290.1) scale(0.9 1)" class="ax" text-anchor="middle">21/07/01</text>
<text transform="translate(1056.35 290.1) scale(0.9 1)" class="ax" text-anchor="middle">21/08/01</text>
<text transform="translate(1105.6 290.1) scale(0.9 1)" class="ax" text-anchor="middle">21/09/01</text>
<text transform="translate(610.4 270.95) scale(0.9 1)" class="ax" text-anchor="end">0</text>
<text transform="translate(610.4 215.95) scale(0.9 1)" class="ax" text-anchor="end">5</text>
<text transform="translate(610.4 160.95) scale(0.9 1)" class="ax" text-anchor="end">10</text>
<text transform="translate(610.4 105.95) scale(0.9 1)" class="ax" text-anchor="end">15</text>
<text transform="translate(610.4 50.95) scale(0.9 1)" class="ax" text-anchor="end">20</text>
<text x="876.6" y="302.7" class="at" text-anchor="middle">date</text>
<text x="615.5" y="17" class="ti">KY: Total number of children hospitalized for confirmed COVID</text>
<polyline points="638.92,234.4 640.53,212.4 642.14,223.4 643.75,157.4 645.36,234.4 646.97,190.4 648.58,212.4 650.19,201.4 651.8,212.4 653.4,245.4 655.01,168.4 656.62,256.4 658.23,234.4 659.84,234.4 661.45,234.4 663.06,245.4 664.67,201.4 666.28,201.4 667.88,201.4 669.49,223.4 671.1,212.4 672.71,190.4 674.32,135.4 675.93,201.4 677.54,190.4 679.15,190.4 680.76,190.4 682.36,212.4 683.97,201.4 685.58,201.4 687.19,146.4 688.8,179.4 690.41,168.4 692.02,179.4 693.63,168.4 695.24,157.4 696.85,212.4 698.45,212.4 700.06,168.4 701.67,201.4 703.28,201.4 704.89,190.4 706.5,212.4 708.11,223.4 709.72,234.4 711.33,245.4 712.93,245.4 714.54,245.4 716.15,201.4 717.76,201.4 719.37,201.4 720.98,223.4 722.59,212.4 724.2,212.4 725.81,212.4 727.41,179.4 729.02,212.4 730.63,245.4 732.24,234.4 733.85,223.4 735.46,234.4 737.07,223.4 738.68,212.4 740.29,234.4 741.89,212.4 743.5,245.4 745.11,223.4 746.72,245.4 748.33,245.4 749.94,245.4 751.55,201.4 753.16,234.4 754.77,234.4 756.37,256.4 757.98,245.4 759.59,223.4 761.2,245.4 762.81,267.4 764.42,245.4 766.03,245.4 767.64,256.4 769.25,267.4 770.85,245.4 772.46,234.4 774.07,212.4 775.68,223.4 777.29,245.4 778.9,179.4 780.51,234.4 782.12,245.4 783.73,256.4 785.33,267.4 786.94,245.4 788.55,256.4 790.16,256.4 791.77,256.4 793.38,234.4 794.99,212.4 796.6,234.4 798.21,245.4 799.81,212.4 801.42,223.4 803.03,234.4 804.64,234.4 806.25,234.4 807.86,245.4 809.47,245.4 811.08,234.4 812.69,256.4 814.29,234.4 815.9,245.4 817.51,234.4 819.12,212.4 820.73,245.4 822.34,245.4 823.95,245.4 825.56,245.4 827.17,256.4 828.77,245.4 830.38,223.4 831.99,234.4 833.6,245.4 835.21,245.4 836.82,212.4 838.43,223.4 840.04,223.4 841.65,234.4 843.25,245.4 844.86,245.4 846.47,245.4 848.08,234.4 849.69,234.4 851.3,223.4 852.91,245.4 854.52,245.4 856.13,223.4 857.74,223.4 859.34,234.4 860.95,223.4 862.56,212.4 864.17,223.4 865.78,223.4 867.39,234.4 869,223.4 870.61,212.4 872.22,223.4 873.82,223.4 875.43,223.4 877.04,223.4 878.65,223.4 880.26,212.4 881.87,223.4 883.48,223.4 885.09,223.4 886.7,223.4 888.3,234.4 889.91,234.4 891.52,234.4 893.13,212.4 894.74,234.4 896.35,234.4 897.96,245.4 899.57,245.4 901.18,212.4 902.78,223.4 904.39,234.4 906,245.4 907.61,245.4 909.22,256.4 910.83,234.4 912.44,245.4 914.05,256.4 915.66,256.4 917.26,256.4 918.87,267.4 920.48,245.4 922.09,245.4 923.7,256.4 925.31,256.4 926.92,245.4 928.53,245.4 930.14,212.4 931.74,190.4 933.35,190.4 934.96,234.4 936.57,234.4 938.18,245.4 939.79,234.4 941.4,245.4 943.01,256.4 944.62,256.4 946.22,245.4 947.83,234.4 949.44,234.4 951.05,256.4 952.66,245.4 954.27,245.4 955.88,256.4 957.49,256.4 959.1,256.4 960.7,256.4 962.31,256.4 963.92,256.4 965.53,234.4 967.14,234.4 968.75,245.4 970.36,234.4 971.97,223.4 973.58,223.4 975.18,245.4 976.79,245.4 978.4,245.4 980.01,256.4 981.62,223.4 983.23,245.4 984.84,256.4 986.45,267.4 988.06,256.4 989.66,267.4 991.27,256.4 992.88,256.4 994.49,256.4 996.1,256.4 997.71,256.4 999.32,256.4 1000.93,256.4 1002.54,245.4 1004.14,256.4 1005.75,267.4 1007.36,256.4 1008.97,256.4 1010.58,256.4 1012.19,256.4 1013.8,256.4 1015.41,256.4 1017.02,223.4 1018.62,256.4 1020.23,267.4 1021.84,267.4 1023.45,267.4 1025.06,267.4 1026.67,267.4 1028.28,245.4 1029.89,234.4 1031.5,245.4 1033.11,234.4 1034.71,256.4 1036.32,256.4 1037.93,245.4 1039.54,234.4 1041.15,245.4 1042.76,223.4 1044.37,234.4 1045.98,234.4 1047.59,234.4 1049.19,234.4 1050.8,223.4 1052.41,201.4 1054.02,201.4 1055.63,201.4 1057.24,190.4 1058.85,201.4 1060.46,201.4 1062.07,223.4 1063.67,201.4 1065.28,201.4 1066.89,201.4 1068.5,179.4 1070.11,201.4 1071.72,190.4 1073.33,157.4 1074.94,124.4 1076.55,135.4 1078.15,124.4 1079.76,80.4 1081.37,91.4 1082.98,69.4 1084.59,47.4 1086.2,36.4 1087.81,58.4 1089.42,47.4 1091.03,47.4 1092.63,135.4 1094.24,124.4 1095.85,146.4 1097.46,113.4 1099.07,157.4 1100.68,36.4 1102.29,69.4 1103.9,113.4 1105.51,69.4 1107.11,113.4 1108.72,69.4 1110.33,47.4 1111.94,58.4 1113.55,58.4" fill="none" stroke="#000" stroke-width="1.1" stroke-linejoin="round"/>
<path d="M636.42 234.4a2.5 2.5 0 1 0 5 0a2.5 2.5 0 1 0 -5 0M638.03 212.4a2.5 2.5 0 1 0 5 0a2.5 2.5 0 1 0 -5 0M639.64 223.4a2.5 2.5 0 1 0 5 0a2.5 2.5 0 1 0 -5 0M641.25 157.4a2.5 2.5 0 1 0 5 0a2.5 2.5 0 1 0 -5 0M642.86 234.4a2.5 2.5 0 1 0 5 0a2.5 2.5 0 1 0 -5 0M644.47 190.4a2.5 2.5 0 1 0 5 0a2.5 2.5 0 1 0 -5 0M646.08 212.4a2.5 2.5 0 1 0 5 0a2.5 2.5 0 1 0 -5 0M647.69 201.4a2.5 2.5 0 1 0 5 0a2.5 2.5 0 1 0 -5 0M649.3 212.4a2.5 2.5 0 1 0 5 0a2.5 2.5 0 1 0 -5 0M650.9 245.4a2.5 2.5 0 1 0 5 0a2.5 2.5 0 1 0 -5 0M652.51 168.4a2.5 2.5 0 1 0 5 0a2.5 2.5 0 1 0 -5 0M654.12 256.4a2.5 2.5 0 1 0 5 0a2.5 2.5 0 1 0 -5 0M655.73 234.4a2.5 2.5 0 1 0 5 0a2.5 2.5 0 1 0 -5 0M657.34 234.4a2.5 2.5 0 1 0 5 0a2.5 2.5 0 1 0 -5 0M658.95 234.4a2.5 2.5 0 1 0 5 0a2.5 2.5 0 1 0 -5 0M660.56 245.4a2.5 2.5 0 1 0 5 0a2.5 2.5 0 1 0 -5 0M662.17 201.4a2.5 2.5 0 1 0 5 0a2.5 2.5 0 1 0 -5 0M663.78 201.4a2.5 2.5 0 1 0 5 0a2.5 2.5 0 1 0 -5 0M665.38 201.4a2.5 2.5 0 1 0 5 0a2.5 2.5 0 1 0 -5 0M666.99 223.4a2.5 2.5 0 1 0 5 0a2.5 2.5 0 1 0 -5 0M668.6 212.4a2.5 2.5 0 1 0 5 0a2.5 2.5 0 1 0 -5 0M670.21 190.4a2.5 2.5 0 1 0 5 0a2.5 2.5 0 1 0 -5 0M671.82 135.4a2.5 2.5 0 1 0 5 0a2.5 2.5 0 1 0 -5 0M673.43 201.4a2.5 2.5 0 1 0 5 0a2.5 2.5 0 1 0 -5 0M675.04 190.4a2.5 2.5 0 1 0 5 0a2.5 2.5 0 1 0 -5 0M676.65 190.4a2.5 2.5 0 1 0 5 0a2.5 2.5 0 1 0 -5 0M678.26 190.4a2.5 2.5 0 1 0 5 0a2.5 2.5 0 1 0 -5 0M679.86 212.4a2.5 2.5 0 1 0 5 0a2.5 2.5 0 1 0 -5 0M681.47 201.4a2.5 2.5 0 1 0 5 0a2.5 2.5 0 1 0 -5 0M683.08 201.4a2.5 2.5 0 1 0 5 0a2.5 2.5 0 1 0 -5 0M684.69 146.4a2.5 2.5 0 1 0 5 0a2.5 2.5 0 1 0 -5 0M686.3 179.4a2.5 2.5 0 1 0 5 0a2.5 2.5 0 1 0 -5 0M687.91 168.4a2.5 2.5 0 1 0 5 0a2.5 2.5 0 1 0 -5 0M689.52 179.4a2.5 2.5 0 1 0 5 0a2.5 2.5 0 1 0 -5 0M691.13 168.4a2.5 2.5 0 1 0 5 0a2.5 2.5 0 1 0 -5 0M692.74 157.4a2.5 2.5 0 1 0 5 0a2.5 2.5 0 1 0 -5 0M694.35 212.4a2.5 2.5 0 1 0 5 0a2.5 2.5 0 1 0 -5 0M695.95 212.4a2.5 2.5 0 1 0 5 0a2.5 2.5 0 1 0 -5 0M697.56 168.4a2.5 2.5 0 1 0 5 0a2.5 2.5 0 1 0 -5 0M699.17 201.4a2.5 2.5 0 1 0 5 0a2.5 2.5 0 1 0 -5 0M700.78 201.4a2.5 2.5 0 1 0 5 0a2.5 2.5 0 1 0 -5 0M702.39 190.4a2.5 2.5 0 1 0 5 0a2.5 2.5 0 1 0 -5 0M704 212.4a2.5 2.5 0 1 0 5 0a2.5 2.5 0 1 0 -5 0M705.61 223.4a2.5 2.5 0 1 0 5 0a2.5 2.5 0 1 0 -5 0M707.22 234.4a2.5 2.5 0 1 0 5 0a2.5 2.5 0 1 0 -5 0M708.83 245.4a2.5 2.5 0 1 0 5 0a2.5 2.5 0 1 0 -5 0M710.43 245.4a2.5 2.5 0 1 0 5 0a2.5 2.5 0 1 0 -5 0M712.04 245.4a2.5 2.5 0 1 0 5 0a2.5 2.5 0 1 0 -5 0M713.65 201.4a2.5 2.5 0 1 0 5 0a2.5 2.5 0 1 0 -5 0M715.26 201.4a2.5 2.5 0 1 0 5 0a2.5 2.5 0 1 0 -5 0M716.87 201.4a2.5 2.5 0 1 0 5 0a2.5 2.5 0 1 0 -5 0M718.48 223.4a2.5 2.5 0 1 0 5 0a2.5 2.5 0 1 0 -5 0M720.09 212.4a2.5 2.5 0 1 0 5 0a2.5 2.5 0 1 0 -5 0M721.7 212.4a2.5 2.5 0 1 0 5 0a2.5 2.5 0 1 0 -5 0M723.31 212.4a2.5 2.5 0 1 0 5 0a2.5 2.5 0 1 0 -5 0M724.91 179.4a2.5 2.5 0 1 0 5 0a2.5 2.5 0 1 0 -5 0M726.52 212.4a2.5 2.5 0 1 0 5 0a2.5 2.5 0 1 0 -5 0M728.13 245.4a2.5 2.5 0 1 0 5 0a2.5 2.5 0 1 0 -5 0M729.74 234.4a2.5 2.5 0 1 0 5 0a2.5 2.5 0 1 0 -5 0M731.35 223.4a2.5 2.5 0 1 0 5 0a2.5 2.5 0 1 0 -5 0M732.96 234.4a2.5 2.5 0 1 0 5 0a2.5 2.5 0 1 0 -5 0M734.57 223.4a2.5 2.5 0 1 0 5 0a2.5 2.5 0 1 0 -5 0M736.18 212.4a2.5 2.5 0 1 0 5 0a2.5 2.5 0 1 0 -5 0M737.79 234.4a2.5 2.5 0 1 0 5 0a2.5 2.5 0 1 0 -5 0M739.39 212.4a2.5 2.5 0 1 0 5 0a2.5 2.5 0 1 0 -5 0M741 245.4a2.5 2.5 0 1 0 5 0a2.5 2.5 0 1 0 -5 0M742.61 223.4a2.5 2.5 0 1 0 5 0a2.5 2.5 0 1 0 -5 0M744.22 245.4a2.5 2.5 0 1 0 5 0a2.5 2.5 0 1 0 -5 0M745.83 245.4a2.5 2.5 0 1 0 5 0a2.5 2.5 0 1 0 -5 0M747.44 245.4a2.5 2.5 0 1 0 5 0a2.5 2.5 0 1 0 -5 0M749.05 201.4a2.5 2.5 0 1 0 5 0a2.5 2.5 0 1 0 -5 0M750.66 234.4a2.5 2.5 0 1 0 5 0a2.5 2.5 0 1 0 -5 0M752.27 234.4a2.5 2.5 0 1 0 5 0a2.5 2.5 0 1 0 -5 0M753.87 256.4a2.5 2.5 0 1 0 5 0a2.5 2.5 0 1 0 -5 0M755.48 245.4a2.5 2.5 0 1 0 5 0a2.5 2.5 0 1 0 -5 0M757.09 223.4a2.5 2.5 0 1 0 5 0a2.5 2.5 0 1 0 -5 0M758.7 245.4a2.5 2.5 0 1 0 5 0a2.5 2.5 0 1 0 -5 0M760.31 267.4a2.5 2.5 0 1 0 5 0a2.5 2.5 0 1 0 -5 0M761.92 245.4a2.5 2.5 0 1 0 5 0a2.5 2.5 0 1 0 -5 0M763.53 245.4a2.5 2.5 0 1 0 5 0a2.5 2.5 0 1 0 -5 0M765.14 256.4a2.5 2.5 0 1 0 5 0a2.5 2.5 0 1 0 -5 0M766.75 267.4a2.5 2.5 0 1 0 5 0a2.5 2.5 0 1 0 -5 0M768.35 245.4a2.5 2.5 0 1 0 5 0a2.5 2.5 0 1 0 -5 0M769.96 234.4a2.5 2.5 0 1 0 5 0a2.5 2.5 0 1 0 -5 0M771.57 212.4a2.5 2.5 0 1 0 5 0a2.5 2.5 0 1 0 -5 0M773.18 223.4a2.5 2.5 0 1 0 5 0a2.5 2.5 0 1 0 -5 0M774.79 245.4a2.5 2.5 0 1 0 5 0a2.5 2.5 0 1 0 -5 0M776.4 179.4a2.5 2.5 0 1 0 5 0a2.5 2.5 0 1 0 -5 0M778.01 234.4a2.5 2.5 0 1 0 5 0a2.5 2.5 0 1 0 -5 0M779.62 245.4a2.5 2.5 0 1 0 5 0a2.5 2.5 0 1 0 -5 0M781.23 256.4a2.5 2.5 0 1 0 5 0a2.5 2.5 0 1 0 -5 0M782.83 267.4a2.5 2.5 0 1 0 5 0a2.5 2.5 0 1 0 -5 0M784.44 245.4a2.5 2.5 0 1 0 5 0a2.5 2.5 0 1 0 -5 0M786.05 256.4a2.5 2.5 0 1 0 5 0a2.5 2.5 0 1 0 -5 0M787.66 256.4a2.5 2.5 0 1 0 5 0a2.5 2.5 0 1 0 -5 0M789.27 256.4a2.5 2.5 0 1 0 5 0a2.5 2.5 0 1 0 -5 0M790.88 234.4a2.5 2.5 0 1 0 5 0a2.5 2.5 0 1 0 -5 0M792.49 212.4a2.5 2.5 0 1 0 5 0a2.5 2.5 0 1 0 -5 0M794.1 234.4a2.5 2.5 0 1 0 5 0a2.5 2.5 0 1 0 -5 0M795.71 245.4a2.5 2.5 0 1 0 5 0a2.5 2.5 0 1 0 -5 0M797.31 212.4a2.5 2.5 0 1 0 5 0a2.5 2.5 0 1 0 -5 0M798.92 223.4a2.5 2.5 0 1 0 5 0a2.5 2.5 0 1 0 -5 0M800.53 234.4a2.5 2.5 0 1 0 5 0a2.5 2.5 0 1 0 -5 0M802.14 234.4a2.5 2.5 0 1 0 5 0a2.5 2.5 0 1 0 -5 0M803.75 234.4a2.5 2.5 0 1 0 5 0a2.5 2.5 0 1 0 -5 0M805.36 245.4a2.5 2.5 0 1 0 5 0a2.5 2.5 0 1 0 -5 0M806.97 245.4a2.5 2.5 0 1 0 5 0a2.5 2.5 0 1 0 -5 0M808.58 234.4a2.5 2.5 0 1 0 5 0a2.5 2.5 0 1 0 -5 0M810.19 256.4a2.5 2.5 0 1 0 5 0a2.5 2.5 0 1 0 -5 0M811.79 234.4a2.5 2.5 0 1 0 5 0a2.5 2.5 0 1 0 -5 0M813.4 245.4a2.5 2.5 0 1 0 5 0a2.5 2.5 0 1 0 -5 0M815.01 234.4a2.5 2.5 0 1 0 5 0a2.5 2.5 0 1 0 -5 0M816.62 212.4a2.5 2.5 0 1 0 5 0a2.5 2.5 0 1 0 -5 0M818.23 245.4a2.5 2.5 0 1 0 5 0a2.5 2.5 0 1 0 -5 0M819.84 245.4a2.5 2.5 0 1 0 5 0a2.5 2.5 0 1 0 -5 0M821.45 245.4a2.5 2.5 0 1 0 5 0a2.5 2.5 0 1 0 -5 0M823.06 245.4a2.5 2.5 0 1 0 5 0a2.5 2.5 0 1 0 -5 0M824.67 256.4a2.5 2.5 0 1 0 5 0a2.5 2.5 0 1 0 -5 0M826.27 245.4a2.5 2.5 0 1 0 5 0a2.5 2.5 0 1 0 -5 0M827.88 223.4a2.5 2.5 0 1 0 5 0a2.5 2.5 0 1 0 -5 0M829.49 234.4a2.5 2.5 0 1 0 5 0a2.5 2.5 0 1 0 -5 0M831.1 245.4a2.5 2.5 0 1 0 5 0a2.5 2.5 0 1 0 -5 0M832.71 245.4a2.5 2.5 0 1 0 5 0a2.5 2.5 0 1 0 -5 0M834.32 212.4a2.5 2.5 0 1 0 5 0a2.5 2.5 0 1 0 -5 0M835.93 223.4a2.5 2.5 0 1 0 5 0a2.5 2.5 0 1 0 -5 0M837.54 223.4a2.5 2.5 0 1 0 5 0a2.5 2.5 0 1 0 -5 0M839.15 234.4a2.5 2.5 0 1 0 5 0a2.5 2.5 0 1 0 -5 0M840.75 245.4a2.5 2.5 0 1 0 5 0a2.5 2.5 0 1 0 -5 0M842.36 245.4a2.5 2.5 0 1 0 5 0a2.5 2.5 0 1 0 -5 0M843.97 245.4a2.5 2.5 0 1 0 5 0a2.5 2.5 0 1 0 -5 0M845.58 234.4a2.5 2.5 0 1 0 5 0a2.5 2.5 0 1 0 -5 0M847.19 234.4a2.5 2.5 0 1 0 5 0a2.5 2.5 0 1 0 -5 0M848.8 223.4a2.5 2.5 0 1 0 5 0a2.5 2.5 0 1 0 -5 0M850.41 245.4a2.5 2.5 0 1 0 5 0a2.5 2.5 0 1 0 -5 0M852.02 245.4a2.5 2.5 0 1 0 5 0a2.5 2.5 0 1 0 -5 0M853.63 223.4a2.5 2.5 0 1 0 5 0a2.5 2.5 0 1 0 -5 0M855.24 223.4a2.5 2.5 0 1 0 5 0a2.5 2.5 0 1 0 -5 0M856.84 234.4a2.5 2.5 0 1 0 5 0a2.5 2.5 0 1 0 -5 0M858.45 223.4a2.5 2.5 0 1 0 5 0a2.5 2.5 0 1 0 -5 0M860.06 212.4a2.5 2.5 0 1 0 5 0a2.5 2.5 0 1 0 -5 0M861.67 223.4a2.5 2.5 0 1 0 5 0a2.5 2.5 0 1 0 -5 0M863.28 223.4a2.5 2.5 0 1 0 5 0a2.5 2.5 0 1 0 -5 0M864.89 234.4a2.5 2.5 0 1 0 5 0a2.5 2.5 0 1 0 -5 0M866.5 223.4a2.5 2.5 0 1 0 5 0a2.5 2.5 0 1 0 -5 0M868.11 212.4a2.5 2.5 0 1 0 5 0a2.5 2.5 0 1 0 -5 0M869.72 223.4a2.5 2.5 0 1 0 5 0a2.5 2.5 0 1 0 -5 0M871.32 223.4a2.5 2.5 0 1 0 5 0a2.5 2.5 0 1 0 -5 0M872.93 223.4a2.5 2.5 0 1 0 5 0a2.5 2.5 0 1 0 -5 0M874.54 223.4a2.5 2.5 0 1 0 5 0a2.5 2.5 0 1 0 -5 0M876.15 223.4a2.5 2.5 0 1 0 5 0a2.5 2.5 0 1 0 -5 0M877.76 212.4a2.5 2.5 0 1 0 5 0a2.5 2.5 0 1 0 -5 0M879.37 223.4a2.5 2.5 0 1 0 5 0a2.5 2.5 0 1 0 -5 0M880.98 223.4a2.5 2.5 0 1 0 5 0a2.5 2.5 0 1 0 -5 0M882.59 223.4a2.5 2.5 0 1 0 5 0a2.5 2.5 0 1 0 -5 0M884.2 223.4a2.5 2.5 0 1 0 5 0a2.5 2.5 0 1 0 -5 0M885.8 234.4a2.5 2.5 0 1 0 5 0a2.5 2.5 0 1 0 -5 0M887.41 234.4a2.5 2.5 0 1 0 5 0a2.5 2.5 0 1 0 -5 0M889.02 234.4a2.5 2.5 0 1 0 5 0a2.5 2.5 0 1 0 -5 0M890.63 212.4a2.5 2.5 0 1 0 5 0a2.5 2.5 0 1 0 -5 0M892.24 234.4a2.5 2.5 0 1 0 5 0a2.5 2.5 0 1 0 -5 0M893.85 234.4a2.5 2.5 0 1 0 5 0a2.5 2.5 0 1 0 -5 0M895.46 245.4a2.5 2.5 0 1 0 5 0a2.5 2.5 0 1 0 -5 0M897.07 245.4a2.5 2.5 0 1 0 5 0a2.5 2.5 0 1 0 -5 0M898.68 212.4a2.5 2.5 0 1 0 5 0a2.5 2.5 0 1 0 -5 0M900.28 223.4a2.5 2.5 0 1 0 5 0a2.5 2.5 0 1 0 -5 0M901.89 234.4a2.5 2.5 0 1 0 5 0a2.5 2.5 0 1 0 -5 0M903.5 245.4a2.5 2.5 0 1 0 5 0a2.5 2.5 0 1 0 -5 0M905.11 245.4a2.5 2.5 0 1 0 5 0a2.5 2.5 0 1 0 -5 0M906.72 256.4a2.5 2.5 0 1 0 5 0a2.5 2.5 0 1 0 -5 0M908.33 234.4a2.5 2.5 0 1 0 5 0a2.5 2.5 0 1 0 -5 0M909.94 245.4a2.5 2.5 0 1 0 5 0a2.5 2.5 0 1 0 -5 0M911.55 256.4a2.5 2.5 0 1 0 5 0a2.5 2.5 0 1 0 -5 0M913.16 256.4a2.5 2.5 0 1 0 5 0a2.5 2.5 0 1 0 -5 0M914.76 256.4a2.5 2.5 0 1 0 5 0a2.5 2.5 0 1 0 -5 0M916.37 267.4a2.5 2.5 0 1 0 5 0a2.5 2.5 0 1 0 -5 0M917.98 245.4a2.5 2.5 0 1 0 5 0a2.5 2.5 0 1 0 -5 0M919.59 245.4a2.5 2.5 0 1 0 5 0a2.5 2.5 0 1 0 -5 0M921.2 256.4a2.5 2.5 0 1 0 5 0a2.5 2.5 0 1 0 -5 0M922.81 256.4a2.5 2.5 0 1 0 5 0a2.5 2.5 0 1 0 -5 0M924.42 245.4a2.5 2.5 0 1 0 5 0a2.5 2.5 0 1 0 -5 0M926.03 245.4a2.5 2.5 0 1 0 5 0a2.5 2.5 0 1 0 -5 0M927.64 212.4a2.5 2.5 0 1 0 5 0a2.5 2.5 0 1 0 -5 0M929.24 190.4a2.5 2.5 0 1 0 5 0a2.5 2.5 0 1 0 -5 0M930.85 190.4a2.5 2.5 0 1 0 5 0a2.5 2.5 0 1 0 -5 0M932.46 234.4a2.5 2.5 0 1 0 5 0a2.5 2.5 0 1 0 -5 0M934.07 234.4a2.5 2.5 0 1 0 5 0a2.5 2.5 0 1 0 -5 0M935.68 245.4a2.5 2.5 0 1 0 5 0a2.5 2.5 0 1 0 -5 0M937.29 234.4a2.5 2.5 0 1 0 5 0a2.5 2.5 0 1 0 -5 0M938.9 245.4a2.5 2.5 0 1 0 5 0a2.5 2.5 0 1 0 -5 0M940.51 256.4a2.5 2.5 0 1 0 5 0a2.5 2.5 0 1 0 -5 0M942.12 256.4a2.5 2.5 0 1 0 5 0a2.5 2.5 0 1 0 -5 0M943.72 245.4a2.5 2.5 0 1 0 5 0a2.5 2.5 0 1 0 -5 0M945.33 234.4a2.5 2.5 0 1 0 5 0a2.5 2.5 0 1 0 -5 0M946.94 234.4a2.5 2.5 0 1 0 5 0a2.5 2.5 0 1 0 -5 0M948.55 256.4a2.5 2.5 0 1 0 5 0a2.5 2.5 0 1 0 -5 0M950.16 245.4a2.5 2.5 0 1 0 5 0a2.5 2.5 0 1 0 -5 0M951.77 245.4a2.5 2.5 0 1 0 5 0a2.5 2.5 0 1 0 -5 0M953.38 256.4a2.5 2.5 0 1 0 5 0a2.5 2.5 0 1 0 -5 0M954.99 256.4a2.5 2.5 0 1 0 5 0a2.5 2.5 0 1 0 -5 0M956.6 256.4a2.5 2.5 0 1 0 5 0a2.5 2.5 0 1 0 -5 0M958.2 256.4a2.5 2.5 0 1 0 5 0a2.5 2.5 0 1 0 -5 0M959.81 256.4a2.5 2.5 0 1 0 5 0a2.5 2.5 0 1 0 -5 0M961.42 256.4a2.5 2.5 0 1 0 5 0a2.5 2.5 0 1 0 -5 0M963.03 234.4a2.5 2.5 0 1 0 5 0a2.5 2.5 0 1 0 -5 0M964.64 234.4a2.5 2.5 0 1 0 5 0a2.5 2.5 0 1 0 -5 0M966.25 245.4a2.5 2.5 0 1 0 5 0a2.5 2.5 0 1 0 -5 0M967.86 234.4a2.5 2.5 0 1 0 5 0a2.5 2.5 0 1 0 -5 0M969.47 223.4a2.5 2.5 0 1 0 5 0a2.5 2.5 0 1 0 -5 0M971.08 223.4a2.5 2.5 0 1 0 5 0a2.5 2.5 0 1 0 -5 0M972.68 245.4a2.5 2.5 0 1 0 5 0a2.5 2.5 0 1 0 -5 0M974.29 245.4a2.5 2.5 0 1 0 5 0a2.5 2.5 0 1 0 -5 0M975.9 245.4a2.5 2.5 0 1 0 5 0a2.5 2.5 0 1 0 -5 0M977.51 256.4a2.5 2.5 0 1 0 5 0a2.5 2.5 0 1 0 -5 0M979.12 223.4a2.5 2.5 0 1 0 5 0a2.5 2.5 0 1 0 -5 0M980.73 245.4a2.5 2.5 0 1 0 5 0a2.5 2.5 0 1 0 -5 0M982.34 256.4a2.5 2.5 0 1 0 5 0a2.5 2.5 0 1 0 -5 0M983.95 267.4a2.5 2.5 0 1 0 5 0a2.5 2.5 0 1 0 -5 0M985.56 256.4a2.5 2.5 0 1 0 5 0a2.5 2.5 0 1 0 -5 0M987.16 267.4a2.5 2.5 0 1 0 5 0a2.5 2.5 0 1 0 -5 0M988.77 256.4a2.5 2.5 0 1 0 5 0a2.5 2.5 0 1 0 -5 0M990.38 256.4a2.5 2.5 0 1 0 5 0a2.5 2.5 0 1 0 -5 0M991.99 256.4a2.5 2.5 0 1 0 5 0a2.5 2.5 0 1 0 -5 0M993.6 256.4a2.5 2.5 0 1 0 5 0a2.5 2.5 0 1 0 -5 0M995.21 256.4a2.5 2.5 0 1 0 5 0a2.5 2.5 0 1 0 -5 0M996.82 256.4a2.5 2.5 0 1 0 5 0a2.5 2.5 0 1 0 -5 0M998.43 256.4a2.5 2.5 0 1 0 5 0a2.5 2.5 0 1 0 -5 0M1000.04 245.4a2.5 2.5 0 1 0 5 0a2.5 2.5 0 1 0 -5 0M1001.64 256.4a2.5 2.5 0 1 0 5 0a2.5 2.5 0 1 0 -5 0M1003.25 267.4a2.5 2.5 0 1 0 5 0a2.5 2.5 0 1 0 -5 0M1004.86 256.4a2.5 2.5 0 1 0 5 0a2.5 2.5 0 1 0 -5 0M1006.47 256.4a2.5 2.5 0 1 0 5 0a2.5 2.5 0 1 0 -5 0M1008.08 256.4a2.5 2.5 0 1 0 5 0a2.5 2.5 0 1 0 -5 0M1009.69 256.4a2.5 2.5 0 1 0 5 0a2.5 2.5 0 1 0 -5 0M1011.3 256.4a2.5 2.5 0 1 0 5 0a2.5 2.5 0 1 0 -5 0M1012.91 256.4a2.5 2.5 0 1 0 5 0a2.5 2.5 0 1 0 -5 0M1014.52 223.4a2.5 2.5 0 1 0 5 0a2.5 2.5 0 1 0 -5 0M1016.12 256.4a2.5 2.5 0 1 0 5 0a2.5 2.5 0 1 0 -5 0M1017.73 267.4a2.5 2.5 0 1 0 5 0a2.5 2.5 0 1 0 -5 0M1019.34 267.4a2.5 2.5 0 1 0 5 0a2.5 2.5 0 1 0 -5 0M1020.95 267.4a2.5 2.5 0 1 0 5 0a2.5 2.5 0 1 0 -5 0M1022.56 267.4a2.5 2.5 0 1 0 5 0a2.5 2.5 0 1 0 -5 0M1024.17 267.4a2.5 2.5 0 1 0 5 0a2.5 2.5 0 1 0 -5 0M1025.78 245.4a2.5 2.5 0 1 0 5 0a2.5 2.5 0 1 0 -5 0M1027.39 234.4a2.5 2.5 0 1 0 5 0a2.5 2.5 0 1 0 -5 0M1029 245.4a2.5 2.5 0 1 0 5 0a2.5 2.5 0 1 0 -5 0M1030.61 234.4a2.5 2.5 0 1 0 5 0a2.5 2.5 0 1 0 -5 0M1032.21 256.4a2.5 2.5 0 1 0 5 0a2.5 2.5 0 1 0 -5 0M1033.82 256.4a2.5 2.5 0 1 0 5 0a2.5 2.5 0 1 0 -5 0M1035.43 245.4a2.5 2.5 0 1 0 5 0a2.5 2.5 0 1 0 -5 0M1037.04 234.4a2.5 2.5 0 1 0 5 0a2.5 2.5 0 1 0 -5 0M1038.65 245.4a2.5 2.5 0 1 0 5 0a2.5 2.5 0 1 0 -5 0M1040.26 223.4a2.5 2.5 0 1 0 5 0a2.5 2.5 0 1 0 -5 0M1041.87 234.4a2.5 2.5 0 1 0 5 0a2.5 2.5 0 1 0 -5 0M1043.48 234.4a2.5 2.5 0 1 0 5 0a2.5 2.5 0 1 0 -5 0M1045.09 234.4a2.5 2.5 0 1 0 5 0a2.5 2.5 0 1 0 -5 0M1046.69 234.4a2.5 2.5 0 1 0 5 0a2.5 2.5 0 1 0 -5 0M1048.3 223.4a2.5 2.5 0 1 0 5 0a2.5 2.5 0 1 0 -5 0M1049.91 201.4a2.5 2.5 0 1 0 5 0a2.5 2.5 0 1 0 -5 0M1051.52 201.4a2.5 2.5 0 1 0 5 0a2.5 2.5 0 1 0 -5 0M1053.13 201.4a2.5 2.5 0 1 0 5 0a2.5 2.5 0 1 0 -5 0M1054.74 190.4a2.5 2.5 0 1 0 5 0a2.5 2.5 0 1 0 -5 0M1056.35 201.4a2.5 2.5 0 1 0 5 0a2.5 2.5 0 1 0 -5 0M1057.96 201.4a2.5 2.5 0 1 0 5 0a2.5 2.5 0 1 0 -5 0M1059.57 223.4a2.5 2.5 0 1 0 5 0a2.5 2.5 0 1 0 -5 0M1061.17 201.4a2.5 2.5 0 1 0 5 0a2.5 2.5 0 1 0 -5 0M1062.78 201.4a2.5 2.5 0 1 0 5 0a2.5 2.5 0 1 0 -5 0M1064.39 201.4a2.5 2.5 0 1 0 5 0a2.5 2.5 0 1 0 -5 0M1066 179.4a2.5 2.5 0 1 0 5 0a2.5 2.5 0 1 0 -5 0M1067.61 201.4a2.5 2.5 0 1 0 5 0a2.5 2.5 0 1 0 -5 0M1069.22 190.4a2.5 2.5 0 1 0 5 0a2.5 2.5 0 1 0 -5 0M1070.83 157.4a2.5 2.5 0 1 0 5 0a2.5 2.5 0 1 0 -5 0M1072.44 124.4a2.5 2.5 0 1 0 5 0a2.5 2.5 0 1 0 -5 0M1074.05 135.4a2.5 2.5 0 1 0 5 0a2.5 2.5 0 1 0 -5 0M1075.65 124.4a2.5 2.5 0 1 0 5 0a2.5 2.5 0 1 0 -5 0M1077.26 80.4a2.5 2.5 0 1 0 5 0a2.5 2.5 0 1 0 -5 0M1078.87 91.4a2.5 2.5 0 1 0 5 0a2.5 2.5 0 1 0 -5 0M1080.48 69.4a2.5 2.5 0 1 0 5 0a2.5 2.5 0 1 0 -5 0M1082.09 47.4a2.5 2.5 0 1 0 5 0a2.5 2.5 0 1 0 -5 0M1083.7 36.4a2.5 2.5 0 1 0 5 0a2.5 2.5 0 1 0 -5 0M1085.31 58.4a2.5 2.5 0 1 0 5 0a2.5 2.5 0 1 0 -5 0M1086.92 47.4a2.5 2.5 0 1 0 5 0a2.5 2.5 0 1 0 -5 0M1088.53 47.4a2.5 2.5 0 1 0 5 0a2.5 2.5 0 1 0 -5 0M1090.13 135.4a2.5 2.5 0 1 0 5 0a2.5 2.5 0 1 0 -5 0M1091.74 124.4a2.5 2.5 0 1 0 5 0a2.5 2.5 0 1 0 -5 0M1093.35 146.4a2.5 2.5 0 1 0 5 0a2.5 2.5 0 1 0 -5 0M1094.96 113.4a2.5 2.5 0 1 0 5 0a2.5 2.5 0 1 0 -5 0M1096.57 157.4a2.5 2.5 0 1 0 5 0a2.5 2.5 0 1 0 -5 0M1098.18 36.4a2.5 2.5 0 1 0 5 0a2.5 2.5 0 1 0 -5 0M1099.79 69.4a2.5 2.5 0 1 0 5 0a2.5 2.5 0 1 0 -5 0M1101.4 113.4a2.5 2.5 0 1 0 5 0a2.5 2.5 0 1 0 -5 0M1103.01 69.4a2.5 2.5 0 1 0 5 0a2.5 2.5 0 1 0 -5 0M1104.61 113.4a2.5 2.5 0 1 0 5 0a2.5 2.5 0 1 0 -5 0M1106.22 69.4a2.5 2.5 0 1 0 5 0a2.5 2.5 0 1 0 -5 0M1107.83 47.4a2.5 2.5 0 1 0 5 0a2.5 2.5 0 1 0 -5 0M1109.44 58.4a2.5 2.5 0 1 0 5 0a2.5 2.5 0 1 0 -5 0M1111.05 58.4a2.5 2.5 0 1 0 5 0a2.5 2.5 0 1 0 -5 0" fill="#000"/>
<rect x="41.2" y="350" width="517.8" height="255" fill="#EBEBEB"/>
<path d="M66.5 350V605M115.5 350V605M164.5 350V605M211.5 350V605M258.5 350V605M307.5 350V605M355.5 350V605M404.5 350V605M453.5 350V605M502.5 350V605M551.5 350V605M41.2 576.5H559M41.2 492.5H559M41.2 408.5H559" stroke="#fff" stroke-width="1" fill="none"/>
<path d="M42.5 350V605M90.5 350V605M139.5 350V605M189.5 350V605M233.5 350V605M283.5 350V605M331.5 350V605M380.5 350V605M428.5 350V605M477.5 350V605M527.5 350V605M41.2 534.5H559M41.2 450.5H559M41.2 366.5H559" stroke="#fff" stroke-width="1" fill="none"/>
<path d="M42.5 604.4v3.6M90.5 604.4v3.6M139.5 604.4v3.6M189.5 604.4v3.6M233.5 604.4v3.6M283.5 604.4v3.6M331.5 604.4v3.6M380.5 604.4v3.6M428.5 604.4v3.6M477.5 604.4v3.6M527.5 604.4v3.6M41.8 534.5h-3.6M41.8 450.5h-3.6M41.8 366.5h-3.6" stroke="#333" stroke-width="1" fill="none"/>
<text transform="translate(42.6 616.1) scale(0.9 1)" class="ax" text-anchor="middle">20/11/01</text>
<text transform="translate(90.45 616.1) scale(0.9 1)" class="ax" text-anchor="middle">20/12/01</text>
<text transform="translate(139.3 616.1) scale(0.9 1)" class="ax" text-anchor="middle">21/01/01</text>
<text transform="translate(189.3 616.1) scale(0.9 1)" class="ax" text-anchor="middle">21/02/01</text>
<text transform="translate(233.45 616.1) scale(0.9 1)" class="ax" text-anchor="middle">21/03/01</text>
<text transform="translate(283.5 616.1) scale(0.9 1)" class="ax" text-anchor="middle">21/04/01</text>
<text transform="translate(331.4 616.1) scale(0.9 1)" class="ax" text-anchor="middle">21/05/01</text>
<text transform="translate(380.4 616.1) scale(0.9 1)" class="ax" text-anchor="middle">21/06/01</text>
<text transform="translate(428.4 616.1) scale(0.9 1)" class="ax" text-anchor="middle">21/07/01</text>
<text transform="translate(477.4 616.1) scale(0.9 1)" class="ax" text-anchor="middle">21/08/01</text>
<text transform="translate(527.4 616.1) scale(0.9 1)" class="ax" text-anchor="middle">21/09/01</text>
<text transform="translate(36.4 538) scale(0.9 1)" class="ax" text-anchor="end">200</text>
<text transform="translate(36.4 454.02) scale(0.9 1)" class="ax" text-anchor="end">400</text>
<text transform="translate(36.4 370.04) scale(0.9 1)" class="ax" text-anchor="end">600</text>
<text x="300.1" y="628.7" class="at" text-anchor="middle">date</text>
<text x="41.5" y="342.7" class="ti">KY: New adult admissions for confirmed COVID</text>
<polyline points="64.81,470.62 66.4,469.07 68,465.97 69.59,462.09 71.19,476.05 72.78,453.57 74.38,468.29 75.97,481.47 77.57,462.87 79.16,449.69 80.76,424.88 82.35,452.02 83.95,457.44 85.55,486.43 87.14,444.26 88.74,454.34 90.33,459.77 91.93,439.3 93.52,423.33 95.12,438.84 96.71,432.64 98.31,455.43 99.9,462.56 101.5,449.69 103.1,435.74 104.69,425.66 106.29,421.78 107.88,456.98 109.48,445.04 111.07,399.61 112.67,418.68 114.26,453.88 115.86,452.02 117.45,458.99 119.05,460.54 120.64,456.67 122.24,448.91 123.84,453.57 125.43,445.04 127.03,438.84 128.62,449.69 130.22,456.36 131.81,438.06 133.41,427.21 135,431.86 136.6,438.84 138.19,421.01 139.79,426.43 141.38,453.26 142.98,444.26 144.58,441.16 146.17,431.86 147.77,438.06 149.36,440.39 150.96,422.56 152.55,424.88 154.15,462.56 155.74,431.86 157.34,427.21 158.93,427.98 160.53,418.68 162.12,418.22 163.72,426.43 165.32,457.44 166.91,460.54 168.51,449.69 170.1,448.91 171.7,459.77 173.29,444.26 174.89,457.44 176.48,468.29 178.08,454.34 179.67,445.04 181.27,452.79 182.87,472.95 184.46,479.46 186.06,479.38 187.65,498.76 189.25,495.66 190.84,490.23 192.44,488.68 194.03,469.61 195.63,472.4 197.22,484.03 198.82,507.29 200.41,498.76 202.01,496.43 203.61,501.09 205.2,505.74 206.8,508.06 208.39,525.12 209.99,531.63 211.58,531.63 213.18,526.36 214.77,518.14 216.37,517.36 217.96,518.91 219.56,520.47 221.15,522.02 222.75,522.79 224.35,524.34 225.94,528.99 227.54,525.12 229.13,542.48 230.73,553.8 232.32,553.02 233.92,547.75 235.51,542.48 237.11,542.17 238.7,532.87 240.3,542.95 241.89,549.92 243.49,553.02 245.09,554.88 246.68,554.97 248.28,549.88 249.87,551.57 251.47,553.26 253.06,562.38 254.66,569.69 256.25,563.94 257.85,562.11 259.44,560.29 261.04,567.6 262.64,566.81 264.23,566.03 265.83,576.48 267.42,578.04 269.02,572.82 270.61,575.95 272.21,561.85 273.8,570.73 275.4,582.22 276.99,579.09 278.59,577.52 280.18,564.46 281.78,570.21 283.38,577 284.97,575.95 286.57,562.38 288.16,560.29 289.76,570.73 291.35,567.6 292.95,557.68 294.54,555.59 296.14,571.25 297.73,572.82 299.33,572.3 300.92,572.82 302.52,564.46 304.12,565.51 305.71,562.38 307.31,562.38 308.9,561.33 310.5,566.55 312.09,570.21 313.69,556.63 315.28,563.42 316.88,572.82 318.47,577 320.07,572.82 321.66,572.04 323.26,571.25 324.86,565.51 326.45,567.08 328.05,564.73 329.64,562.38 331.24,570.21 332.83,572.3 334.43,565.51 336.02,568.12 337.62,566.81 339.21,565.51 340.81,567.6 342.41,572.82 344,573.6 345.6,574.39 347.19,567.6 348.79,566.55 350.38,568.38 351.98,570.21 353.57,563.42 355.17,570.73 356.76,571.51 358.36,573.3 359.95,575.08 361.55,573.6 363.15,577.78 364.74,575.95 366.34,573.08 367.93,570.21 369.53,575.95 371.12,580.13 372.72,576.48 374.31,575.69 375.91,574.91 377.5,576.48 379.1,577.52 380.69,584.31 382.29,573.86 383.89,572.3 385.48,577.52 387.08,579.09 388.67,574.91 390.27,574.91 391.86,570.21 393.46,574.91 395.05,567.08 396.65,579.61 398.24,580.65 399.84,578.3 401.43,575.95 403.03,583.26 404.63,580.13 406.22,582.22 407.82,543.05 409.41,584.34 411.01,587.5 412.6,584.54 414.2,581.58 415.79,584.37 417.39,586.11 418.98,587.85 420.58,586.46 422.18,584.02 423.77,581.58 425.37,582.98 426.96,584.37 428.56,587.15 430.15,592.72 431.75,584.37 433.34,589.24 434.94,588.89 436.53,588.55 438.13,585.76 439.72,586.46 441.32,587.15 442.92,581.58 444.51,585.07 446.11,581.93 447.7,578.8 449.3,580.89 450.89,577.41 452.49,571.14 454.08,575.32 455.68,580.19 457.27,589.94 458.87,571.84 460.46,576.36 462.06,580.89 463.66,567.66 465.25,562.79 466.85,562.44 468.44,562.09 470.04,553.49 471.63,545.12 473.23,553.49 474.82,541.95 476.42,528.93 478.01,540.47 479.61,533.4 481.2,520 482.8,505.12 484.4,495.81 485.99,508.47 487.59,503.26 489.18,512.93 490.78,492.09 492.37,466.98 493.97,469.4 495.56,469.58 497.16,469.77 498.75,478.14 500.35,481.3 501.95,444.46 503.54,436.05 505.14,429.38 506.73,432.17 508.33,433.41 509.92,435.5 511.52,437.6 513.11,432.48 514.71,399.61 516.3,394.19 517.9,406.59 519.49,408.14 521.09,426.74 522.69,410.47 524.28,399.61 525.88,386.43 527.47,362.09 529.07,373.26 530.66,374.03 532.26,377.91 533.85,385.35 535.45,377.6" fill="none" stroke="#000" stroke-width="1.1" stroke-linejoin="round"/>
<path d="M62.31 470.62a2.5 2.5 0 1 0 5 0a2.5 2.5 0 1 0 -5 0M63.9 469.07a2.5 2.5 0 1 0 5 0a2.5 2.5 0 1 0 -5 0M65.5 465.97a2.5 2.5 0 1 0 5 0a2.5 2.5 0 1 0 -5 0M67.09 462.09a2.5 2.5 0 1 0 5 0a2.5 2.5 0 1 0 -5 0M68.69 476.05a2.5 2.5 0 1 0 5 0a2.5 2.5 0 1 0 -5 0M70.28 453.57a2.5 2.5 0 1 0 5 0a2.5 2.5 0 1 0 -5 0M71.88 468.29a2.5 2.5 0 1 0 5 0a2.5 2.5 0 1 0 -5 0M73.47 481.47a2.5 2.5 0 1 0 5 0a2.5 2.5 0 1 0 -5 0M75.07 462.87a2.5 2.5 0 1 0 5 0a2.5 2.5 0 1 0 -5 0M76.66 449.69a2.5 2.5 0 1 0 5 0a2.5 2.5 0 1 0 -5 0M78.26 424.88a2.5 2.5 0 1 0 5 0a2.5 2.5 0 1 0 -5 0M79.85 452.02a2.5 2.5 0 1 0 5 0a2.5 2.5 0 1 0 -5 0M81.45 457.44a2.5 2.5 0 1 0 5 0a2.5 2.5 0 1 0 -5 0M83.05 486.43a2.5 2.5 0 1 0 5 0a2.5 2.5 0 1 0 -5 0M84.64 444.26a2.5 2.5 0 1 0 5 0a2.5 2.5 0 1 0 -5 0M86.24 454.34a2.5 2.5 0 1 0 5 0a2.5 2.5 0 1 0 -5 0M87.83 459.77a2.5 2.5 0 1 0 5 0a2.5 2.5 0 1 0 -5 0M89.43 439.3a2.5 2.5 0 1 0 5 0a2.5 2.5 0 1 0 -5 0M91.02 423.33a2.5 2.5 0 1 0 5 0a2.5 2.5 0 1 0 -5 0M92.62 438.84a2.5 2.5 0 1 0 5 0a2.5 2.5 0 1 0 -5 0M94.21 432.64a2.5 2.5 0 1 0 5 0a2.5 2.5 0 1 0 -5 0M95.81 455.43a2.5 2.5 0 1 0 5 0a2.5 2.5 0 1 0 -5 0M97.4 462.56a2.5 2.5 0 1 0 5 0a2.5 2.5 0 1 0 -5 0M99 449.69a2.5 2.5 0 1 0 5 0a2.5 2.5 0 1 0 -5 0M100.6 435.74a2.5 2.5 0 1 0 5 0a2.5 2.5 0 1 0 -5 0M102.19 425.66a2.5 2.5 0 1 0 5 0a2.5 2.5 0 1 0 -5 0M103.79 421.78a2.5 2.5 0 1 0 5 0a2.5 2.5 0 1 0 -5 0M105.38 456.98a2.5 2.5 0 1 0 5 0a2.5 2.5 0 1 0 -5 0M106.98 445.04a2.5 2.5 0 1 0 5 0a2.5 2.5 0 1 0 -5 0M108.57 399.61a2.5 2.5 0 1 0 5 0a2.5 2.5 0 1 0 -5 0M110.17 418.68a2.5 2.5 0 1 0 5 0a2.5 2.5 0 1 0 -5 0M111.76 453.88a2.5 2.5 0 1 0 5 0a2.5 2.5 0 1 0 -5 0M113.36 452.02a2.5 2.5 0 1 0 5 0a2.5 2.5 0 1 0 -5 0M114.95 458.99a2.5 2.5 0 1 0 5 0a2.5 2.5 0 1 0 -5 0M116.55 460.54a2.5 2.5 0 1 0 5 0a2.5 2.5 0 1 0 -5 0M118.14 456.67a2.5 2.5 0 1 0 5 0a2.5 2.5 0 1 0 -5 0M119.74 448.91a2.5 2.5 0 1 0 5 0a2.5 2.5 0 1 0 -5 0M121.34 453.57a2.5 2.5 0 1 0 5 0a2.5 2.5 0 1 0 -5 0M122.93 445.04a2.5 2.5 0 1 0 5 0a2.5 2.5 0 1 0 -5 0M124.53 438.84a2.5 2.5 0 1 0 5 0a2.5 2.5 0 1 0 -5 0M126.12 449.69a2.5 2.5 0 1 0 5 0a2.5 2.5 0 1 0 -5 0M127.72 456.36a2.5 2.5 0 1 0 5 0a2.5 2.5 0 1 0 -5 0M129.31 438.06a2.5 2.5 0 1 0 5 0a2.5 2.5 0 1 0 -5 0M130.91 427.21a2.5 2.5 0 1 0 5 0a2.5 2.5 0 1 0 -5 0M132.5 431.86a2.5 2.5 0 1 0 5 0a2.5 2.5 0 1 0 -5 0M134.1 438.84a2.5 2.5 0 1 0 5 0a2.5 2.5 0 1 0 -5 0M135.69 421.01a2.5 2.5 0 1 0 5 0a2.5 2.5 0 1 0 -5 0M137.29 426.43a2.5 2.5 0 1 0 5 0a2.5 2.5 0 1 0 -5 0M138.88 453.26a2.5 2.5 0 1 0 5 0a2.5 2.5 0 1 0 -5 0M140.48 444.26a2.5 2.5 0 1 0 5 0a2.5 2.5 0 1 0 -5 0M142.08 441.16a2.5 2.5 0 1 0 5 0a2.5 2.5 0 1 0 -5 0M143.67 431.86a2.5 2.5 0 1 0 5 0a2.5 2.5 0 1 0 -5 0M145.27 438.06a2.5 2.5 0 1 0 5 0a2.5 2.5 0 1 0 -5 0M146.86 440.39a2.5 2.5 0 1 0 5 0a2.5 2.5 0 1 0 -5 0M148.46 422.56a2.5 2.5 0 1 0 5 0a2.5 2.5 0 1 0 -5 0M150.05 424.88a2.5 2.5 0 1 0 5 0a2.5 2.5 0 1 0 -5 0M151.65 462.56a2.5 2.5 0 1 0 5 0a2.5 2.5 0 1 0 -5 0M153.24 431.86a2.5 2.5 0 1 0 5 0a2.5 2.5 0 1 0 -5 0M154.84 427.21a2.5 2.5 0 1 0 5 0a2.5 2.5 0 1 0 -5 0M156.43 427.98a2.5 2.5 0 1 0 5 0a2.5 2.5 0 1 0 -5 0M158.03 418.68a2.5 2.5 0 1 0 5 0a2.5 2.5 0 1 0 -5 0M159.62 418.22a2.5 2.5 0 1 0 5 0a2.5 2.5 0 1 0 -5 0M161.22 426.43a2.5 2.5 0 1 0 5 0a2.5 2.5 0 1 0 -5 0M162.82 457.44a2.5 2.5 0 1 0 5 0a2.5 2.5 0 1 0 -5 0M164.41 460.54a2.5 2.5 0 1 0 5 0a2.5 2.5 0 1 0 -5 0M166.01 449.69a2.5 2.5 0 1 0 5 0a2.5 2.5 0 1 0 -5 0M167.6 448.91a2.5 2.5 0 1 0 5 0a2.5 2.5 0 1 0 -5 0M169.2 459.77a2.5 2.5 0 1 0 5 0a2.5 2.5 0 1 0 -5 0M170.79 444.26a2.5 2.5 0 1 0 5 0a2.5 2.5 0 1 0 -5 0M172.39 457.44a2.5 2.5 0 1 0 5 0a2.5 2.5 0 1 0 -5 0M173.98 468.29a2.5 2.5 0 1 0 5 0a2.5 2.5 0 1 0 -5 0M175.58 454.34a2.5 2.5 0 1 0 5 0a2.5 2.5 0 1 0 -5 0M177.17 445.04a2.5 2.5 0 1 0 5 0a2.5 2.5 0 1 0 -5 0M178.77 452.79a2.5 2.5 0 1 0 5 0a2.5 2.5 0 1 0 -5 0M180.37 472.95a2.5 2.5 0 1 0 5 0a2.5 2.5 0 1 0 -5 0M181.96 479.46a2.5 2.5 0 1 0 5 0a2.5 2.5 0 1 0 -5 0M183.56 479.38a2.5 2.5 0 1 0 5 0a2.5 2.5 0 1 0 -5 0M185.15 498.76a2.5 2.5 0 1 0 5 0a2.5 2.5 0 1 0 -5 0M186.75 495.66a2.5 2.5 0 1 0 5 0a2.5 2.5 0 1 0 -5 0M188.34 490.23a2.5 2.5 0 1 0 5 0a2.5 2.5 0 1 0 -5 0M189.94 488.68a2.5 2.5 0 1 0 5 0a2.5 2.5 0 1 0 -5 0M191.53 469.61a2.5 2.5 0 1 0 5 0a2.5 2.5 0 1 0 -5 0M193.13 472.4a2.5 2.5 0 1 0 5 0a2.5 2.5 0 1 0 -5 0M194.72 484.03a2.5 2.5 0 1 0 5 0a2.5 2.5 0 1 0 -5 0M196.32 507.29a2.5 2.5 0 1 0 5 0a2.5 2.5 0 1 0 -5 0M197.91 498.76a2.5 2.5 0 1 0 5 0a2.5 2.5 0 1 0 -5 0M199.51 496.43a2.5 2.5 0 1 0 5 0a2.5 2.5 0 1 0 -5 0M201.11 501.09a2.5 2.5 0 1 0 5 0a2.5 2.5 0 1 0 -5 0M202.7 505.74a2.5 2.5 0 1 0 5 0a2.5 2.5 0 1 0 -5 0M204.3 508.06a2.5 2.5 0 1 0 5 0a2.5 2.5 0 1 0 -5 0M205.89 525.12a2.5 2.5 0 1 0 5 0a2.5 2.5 0 1 0 -5 0M207.49 531.63a2.5 2.5 0 1 0 5 0a2.5 2.5 0 1 0 -5 0M209.08 531.63a2.5 2.5 0 1 0 5 0a2.5 2.5 0 1 0 -5 0M210.68 526.36a2.5 2.5 0 1 0 5 0a2.5 2.5 0 1 0 -5 0M212.27 518.14a2.5 2.5 0 1 0 5 0a2.5 2.5 0 1 0 -5 0M213.87 517.36a2.5 2.5 0 1 0 5 0a2.5 2.5 0 1 0 -5 0M215.46 518.91a2.5 2.5 0 1 0 5 0a2.5 2.5 0 1 0 -5 0M217.06 520.47a2.5 2.5 0 1 0 5 0a2.5 2.5 0 1 0 -5 0M218.65 522.02a2.5 2.5 0 1 0 5 0a2.5 2.5 0 1 0 -5 0M220.25 522.79a2.5 2.5 0 1 0 5 0a2.5 2.5 0 1 0 -5 0M221.85 524.34a2.5 2.5 0 1 0 5 0a2.5 2.5 0 1 0 -5 0M223.44 528.99a2.5 2.5 0 1 0 5 0a2.5 2.5 0 1 0 -5 0M225.04 525.12a2.5 2.5 0 1 0 5 0a2.5 2.5 0 1 0 -5 0M226.63 542.48a2.5 2.5 0 1 0 5 0a2.5 2.5 0 1 0 -5 0M228.23 553.8a2.5 2.5 0 1 0 5 0a2.5 2.5 0 1 0 -5 0M229.82 553.02a2.5 2.5 0 1 0 5 0a2.5 2.5 0 1 0 -5 0M231.42 547.75a2.5 2.5 0 1 0 5 0a2.5 2.5 0 1 0 -5 0M233.01 542.48a2.5 2.5 0 1 0 5 0a2.5 2.5 0 1 0 -5 0M234.61 542.17a2.5 2.5 0 1 0 5 0a2.5 2.5 0 1 0 -5 0M236.2 532.87a2.5 2.5 0 1 0 5 0a2.5 2.5 0 1 0 -5 0M237.8 542.95a2.5 2.5 0 1 0 5 0a2.5 2.5 0 1 0 -5 0M239.39 549.92a2.5 2.5 0 1 0 5 0a2.5 2.5 0 1 0 -5 0M240.99 553.02a2.5 2.5 0 1 0 5 0a2.5 2.5 0 1 0 -5 0M242.59 554.88a2.5 2.5 0 1 0 5 0a2.5 2.5 0 1 0 -5 0M244.18 554.97a2.5 2.5 0 1 0 5 0a2.5 2.5 0 1 0 -5 0M245.78 549.88a2.5 2.5 0 1 0 5 0a2.5 2.5 0 1 0 -5 0M247.37 551.57a2.5 2.5 0 1 0 5 0a2.5 2.5 0 1 0 -5 0M248.97 553.26a2.5 2.5 0 1 0 5 0a2.5 2.5 0 1 0 -5 0M250.56 562.38a2.5 2.5 0 1 0 5 0a2.5 2.5 0 1 0 -5 0M252.16 569.69a2.5 2.5 0 1 0 5 0a2.5 2.5 0 1 0 -5 0M253.75 563.94a2.5 2.5 0 1 0 5 0a2.5 2.5 0 1 0 -5 0M255.35 562.11a2.5 2.5 0 1 0 5 0a2.5 2.5 0 1 0 -5 0M256.94 560.29a2.5 2.5 0 1 0 5 0a2.5 2.5 0 1 0 -5 0M258.54 567.6a2.5 2.5 0 1 0 5 0a2.5 2.5 0 1 0 -5 0M260.14 566.81a2.5 2.5 0 1 0 5 0a2.5 2.5 0 1 0 -5 0M261.73 566.03a2.5 2.5 0 1 0 5 0a2.5 2.5 0 1 0 -5 0M263.33 576.48a2.5 2.5 0 1 0 5 0a2.5 2.5 0 1 0 -5 0M264.92 578.04a2.5 2.5 0 1 0 5 0a2.5 2.5 0 1 0 -5 0M266.52 572.82a2.5 2.5 0 1 0 5 0a2.5 2.5 0 1 0 -5 0M268.11 575.95a2.5 2.5 0 1 0 5 0a2.5 2.5 0 1 0 -5 0M269.71 561.85a2.5 2.5 0 1 0 5 0a2.5 2.5 0 1 0 -5 0M271.3 570.73a2.5 2.5 0 1 0 5 0a2.5 2.5 0 1 0 -5 0M272.9 582.22a2.5 2.5 0 1 0 5 0a2.5 2.5 0 1 0 -5 0M274.49 579.09a2.5 2.5 0 1 0 5 0a2.5 2.5 0 1 0 -5 0M276.09 577.52a2.5 2.5 0 1 0 5 0a2.5 2.5 0 1 0 -5 0M277.68 564.46a2.5 2.5 0 1 0 5 0a2.5 2.5 0 1 0 -5 0M279.28 570.21a2.5 2.5 0 1 0 5 0a2.5 2.5 0 1 0 -5 0M280.88 577a2.5 2.5 0 1 0 5 0a2.5 2.5 0 1 0 -5 0M282.47 575.95a2.5 2.5 0 1 0 5 0a2.5 2.5 0 1 0 -5 0M284.07 562.38a2.5 2.5 0 1 0 5 0a2.5 2.5 0 1 0 -5 0M285.66 560.29a2.5 2.5 0 1 0 5 0a2.5 2.5 0 1 0 -5 0M287.26 570.73a2.5 2.5 0 1 0 5 0a2.5 2.5 0 1 0 -5 0M288.85 567.6a2.5 2.5 0 1 0 5 0a2.5 2.5 0 1 0 -5 0M290.45 557.68a2.5 2.5 0 1 0 5 0a2.5 2.5 0 1 0 -5 0M292.04 555.59a2.5 2.5 0 1 0 5 0a2.5 2.5 0 1 0 -5 0M293.64 571.25a2.5 2.5 0 1 0 5 0a2.5 2.5 0 1 0 -5 0M295.23 572.82a2.5 2.5 0 1 0 5 0a2.5 2.5 0 1 0 -5 0M296.83 572.3a2.5 2.5 0 1 0 5 0a2.5 2.5 0 1 0 -5 0M298.42 572.82a2.5 2.5 0 1 0 5 0a2.5 2.5 0 1 0 -5 0M300.02 564.46a2.5 2.5 0 1 0 5 0a2.5 2.5 0 1 0 -5 0M301.62 565.51a2.5 2.5 0 1 0 5 0a2.5 2.5 0 1 0 -5 0M303.21 562.38a2.5 2.5 0 1 0 5 0a2.5 2.5 0 1 0 -5 0M304.81 562.38a2.5 2.5 0 1 0 5 0a2.5 2.5 0 1 0 -5 0M306.4 561.33a2.5 2.5 0 1 0 5 0a2.5 2.5 0 1 0 -5 0M308 566.55a2.5 2.5 0 1 0 5 0a2.5 2.5 0 1 0 -5 0M309.59 570.21a2.5 2.5 0 1 0 5 0a2.5 2.5 0 1 0 -5 0M311.19 556.63a2.5 2.5 0 1 0 5 0a2.5 2.5 0 1 0 -5 0M312.78 563.42a2.5 2.5 0 1 0 5 0a2.5 2.5 0 1 0 -5 0M314.38 572.82a2.5 2.5 0 1 0 5 0a2.5 2.5 0 1 0 -5 0M315.97 577a2.5 2.5 0 1 0 5 0a2.5 2.5 0 1 0 -5 0M317.57 572.82a2.5 2.5 0 1 0 5 0a2.5 2.5 0 1 0 -5 0M319.16 572.04a2.5 2.5 0 1 0 5 0a2.5 2.5 0 1 0 -5 0M320.76 571.25a2.5 2.5 0 1 0 5 0a2.5 2.5 0 1 0 -5 0M322.36 565.51a2.5 2.5 0 1 0 5 0a2.5 2.5 0 1 0 -5 0M323.95 567.08a2.5 2.5 0 1 0 5 0a2.5 2.5 0 1 0 -5 0M325.55 564.73a2.5 2.5 0 1 0 5 0a2.5 2.5 0 1 0 -5 0M327.14 562.38a2.5 2.5 0 1 0 5 0a2.5 2.5 0 1 0 -5 0M328.74 570.21a2.5 2.5 0 1 0 5 0a2.5 2.5 0 1 0 -5 0M330.33 572.3a2.5 2.5 0 1 0 5 0a2.5 2.5 0 1 0 -5 0M331.93 565.51a2.5 2.5 0 1 0 5 0a2.5 2.5 0 1 0 -5 0M333.52 568.12a2.5 2.5 0 1 0 5 0a2.5 2.5 0 1 0 -5 0M335.12 566.81a2.5 2.5 0 1 0 5 0a2.5 2.5 0 1 0 -5 0M336.71 565.51a2.5 2.5 0 1 0 5 0a2.5 2.5 0 1 0 -5 0M338.31 567.6a2.5 2.5 0 1 0 5 0a2.5 2.5 0 1 0 -5 0M339.91 572.82a2.5 2.5 0 1 0 5 0a2.5 2.5 0 1 0 -5 0M341.5 573.6a2.5 2.5 0 1 0 5 0a2.5 2.5 0 1 0 -5 0M343.1 574.39a2.5 2.5 0 1 0 5 0a2.5 2.5 0 1 0 -5 0M344.69 567.6a2.5 2.5 0 1 0 5 0a2.5 2.5 0 1 0 -5 0M346.29 566.55a2.5 2.5 0 1 0 5 0a2.5 2.5 0 1 0 -5 0M347.88 568.38a2.5 2.5 0 1 0 5 0a2.5 2.5 0 1 0 -5 0M349.48 570.21a2.5 2.5 0 1 0 5 0a2.5 2.5 0 1 0 -5 0M351.07 563.42a2.5 2.5 0 1 0 5 0a2.5 2.5 0 1 0 -5 0M352.67 570.73a2.5 2.5 0 1 0 5 0a2.5 2.5 0 1 0 -5 0M354.26 571.51a2.5 2.5 0 1 0 5 0a2.5 2.5 0 1 0 -5 0M355.86 573.3a2.5 2.5 0 1 0 5 0a2.5 2.5 0 1 0 -5 0M357.45 575.08a2.5 2.5 0 1 0 5 0a2.5 2.5 0 1 0 -5 0M359.05 573.6a2.5 2.5 0 1 0 5 0a2.5 2.5 0 1 0 -5 0M360.65 577.78a2.5 2.5 0 1 0 5 0a2.5 2.5 0 1 0 -5 0M362.24 575.95a2.5 2.5 0 1 0 5 0a2.5 2.5 0 1 0 -5 0M363.84 573.08a2.5 2.5 0 1 0 5 0a2.5 2.5 0 1 0 -5 0M365.43 570.21a2.5 2.5 0 1 0 5 0a2.5 2.5 0 1 0 -5 0M367.03 575.95a2.5 2.5 0 1 0 5 0a2.5 2.5 0 1 0 -5 0M368.62 580.13a2.5 2.5 0 1 0 5 0a2.5 2.5 0 1 0 -5 0M370.22 576.48a2.5 2.5 0 1 0 5 0a2.5 2.5 0 1 0 -5 0M371.81 575.69a2.5 2.5 0 1 0 5 0a2.5 2.5 0 1 0 -5 0M373.41 574.91a2.5 2.5 0 1 0 5 0a2.5 2.5 0 1 0 -5 0M375 576.48a2.5 2.5 0 1 0 5 0a2.5 2.5 0 1 0 -5 0M376.6 577.52a2.5 2.5 0 1 0 5 0a2.5 2.5 0 1 0 -5 0M378.19 584.31a2.5 2.5 0 1 0 5 0a2.5 2.5 0 1 0 -5 0M379.79 573.86a2.5 2.5 0 1 0 5 0a2.5 2.5 0 1 0 -5 0M381.39 572.3a2.5 2.5 0 1 0 5 0a2.5 2.5 0 1 0 -5 0M382.98 577.52a2.5 2.5 0 1 0 5 0a2.5 2.5 0 1 0 -5 0M384.58 579.09a2.5 2.5 0 1 0 5 0a2.5 2.5 0 1 0 -5 0M386.17 574.91a2.5 2.5 0 1 0 5 0a2.5 2.5 0 1 0 -5 0M387.77 574.91a2.5 2.5 0 1 0 5 0a2.5 2.5 0 1 0 -5 0M389.36 570.21a2.5 2.5 0 1 0 5 0a2.5 2.5 0 1 0 -5 0M390.96 574.91a2.5 2.5 0 1 0 5 0a2.5 2.5 0 1 0 -5 0M392.55 567.08a2.5 2.5 0 1 0 5 0a2.5 2.5 0 1 0 -5 0M394.15 579.61a2.5 2.5 0 1 0 5 0a2.5 2.5 0 1 0 -5 0M395.74 580.65a2.5 2.5 0 1 0 5 0a2.5 2.5 0 1 0 -5 0M397.34 578.3a2.5 2.5 0 1 0 5 0a2.5 2.5 0 1 0 -5 0M398.93 575.95a2.5 2.5 0 1 0 5 0a2.5 2.5 0 1 0 -5 0M400.53 583.26a2.5 2.5 0 1 0 5 0a2.5 2.5 0 1 0 -5 0M402.13 580.13a2.5 2.5 0 1 0 5 0a2.5 2.5 0 1 0 -5 0M403.72 582.22a2.5 2.5 0 1 0 5 0a2.5 2.5 0 1 0 -5 0M405.32 543.05a2.5 2.5 0 1 0 5 0a2.5 2.5 0 1 0 -5 0M406.91 584.34a2.5 2.5 0 1 0 5 0a2.5 2.5 0 1 0 -5 0M408.51 587.5a2.5 2.5 0 1 0 5 0a2.5 2.5 0 1 0 -5 0M410.1 584.54a2.5 2.5 0 1 0 5 0a2.5 2.5 0 1 0 -5 0M411.7 581.58a2.5 2.5 0 1 0 5 0a2.5 2.5 0 1 0 -5 0M413.29 584.37a2.5 2.5 0 1 0 5 0a2.5 2.5 0 1 0 -5 0M414.89 586.11a2.5 2.5 0 1 0 5 0a2.5 2.5 0 1 0 -5 0M416.48 587.85a2.5 2.5 0 1 0 5 0a2.5 2.5 0 1 0 -5 0M418.08 586.46a2.5 2.5 0 1 0 5 0a2.5 2.5 0 1 0 -5 0M419.68 584.02a2.5 2.5 0 1 0 5 0a2.5 2.5 0 1 0 -5 0M421.27 581.58a2.5 2.5 0 1 0 5 0a2.5 2.5 0 1 0 -5 0M422.87 582.98a2.5 2.5 0 1 0 5 0a2.5 2.5 0 1 0 -5 0M424.46 584.37a2.5 2.5 0 1 0 5 0a2.5 2.5 0 1 0 -5 0M426.06 587.15a2.5 2.5 0 1 0 5 0a2.5 2.5 0 1 0 -5 0M427.65 592.72a2.5 2.5 0 1 0 5 0a2.5 2.5 0 1 0 -5 0M429.25 584.37a2.5 2.5 0 1 0 5 0a2.5 2.5 0 1 0 -5 0M430.84 589.24a2.5 2.5 0 1 0 5 0a2.5 2.5 0 1 0 -5 0M432.44 588.89a2.5 2.5 0 1 0 5 0a2.5 2.5 0 1 0 -5 0M434.03 588.55a2.5 2.5 0 1 0 5 0a2.5 2.5 0 1 0 -5 0M435.63 585.76a2.5 2.5 0 1 0 5 0a2.5 2.5 0 1 0 -5 0M437.22 586.46a2.5 2.5 0 1 0 5 0a2.5 2.5 0 1 0 -5 0M438.82 587.15a2.5 2.5 0 1 0 5 0a2.5 2.5 0 1 0 -5 0M440.42 581.58a2.5 2.5 0 1 0 5 0a2.5 2.5 0 1 0 -5 0M442.01 585.07a2.5 2.5 0 1 0 5 0a2.5 2.5 0 1 0 -5 0M443.61 581.93a2.5 2.5 0 1 0 5 0a2.5 2.5 0 1 0 -5 0M445.2 578.8a2.5 2.5 0 1 0 5 0a2.5 2.5 0 1 0 -5 0M446.8 580.89a2.5 2.5 0 1 0 5 0a2.5 2.5 0 1 0 -5 0M448.39 577.41a2.5 2.5 0 1 0 5 0a2.5 2.5 0 1 0 -5 0M449.99 571.14a2.5 2.5 0 1 0 5 0a2.5 2.5 0 1 0 -5 0M451.58 575.32a2.5 2.5 0 1 0 5 0a2.5 2.5 0 1 0 -5 0M453.18 580.19a2.5 2.5 0 1 0 5 0a2.5 2.5 0 1 0 -5 0M454.77 589.94a2.5 2.5 0 1 0 5 0a2.5 2.5 0 1 0 -5 0M456.37 571.84a2.5 2.5 0 1 0 5 0a2.5 2.5 0 1 0 -5 0M457.96 576.36a2.5 2.5 0 1 0 5 0a2.5 2.5 0 1 0 -5 0M459.56 580.89a2.5 2.5 0 1 0 5 0a2.5 2.5 0 1 0 -5 0M461.16 567.66a2.5 2.5 0 1 0 5 0a2.5 2.5 0 1 0 -5 0M462.75 562.79a2.5 2.5 0 1 0 5 0a2.5 2.5 0 1 0 -5 0M464.35 562.44a2.5 2.5 0 1 0 5 0a2.5 2.5 0 1 0 -5 0M465.94 562.09a2.5 2.5 0 1 0 5 0a2.5 2.5 0 1 0 -5 0M467.54 553.49a2.5 2.5 0 1 0 5 0a2.5 2.5 0 1 0 -5 0M469.13 545.12a2.5 2.5 0 1 0 5 0a2.5 2.5 0 1 0 -5 0M470.73 553.49a2.5 2.5 0 1 0 5 0a2.5 2.5 0 1 0 -5 0M472.32 541.95a2.5 2.5 0 1 0 5 0a2.5 2.5 0 1 0 -5 0M473.92 528.93a2.5 2.5 0 1 0 5 0a2.5 2.5 0 1 0 -5 0M475.51 540.47a2.5 2.5 0 1 0 5 0a2.5 2.5 0 1 0 -5 0M477.11 533.4a2.5 2.5 0 1 0 5 0a2.5 2.5 0 1 0 -5 0M478.7 520a2.5 2.5 0 1 0 5 0a2.5 2.5 0 1 0 -5 0M480.3 505.12a2.5 2.5 0 1 0 5 0a2.5 2.5 0 1 0 -5 0M481.9 495.81a2.5 2.5 0 1 0 5 0a2.5 2.5 0 1 0 -5 0M483.49 508.47a2.5 2.5 0 1 0 5 0a2.5 2.5 0 1 0 -5 0M485.09 503.26a2.5 2.5 0 1 0 5 0a2.5 2.5 0 1 0 -5 0M486.68 512.93a2.5 2.5 0 1 0 5 0a2.5 2.5 0 1 0 -5 0M488.28 492.09a2.5 2.5 0 1 0 5 0a2.5 2.5 0 1 0 -5 0M489.87 466.98a2.5 2.5 0 1 0 5 0a2.5 2.5 0 1 0 -5 0M491.47 469.4a2.5 2.5 0 1 0 5 0a2.5 2.5 0 1 0 -5 0M493.06 469.58a2.5 2.5 0 1 0 5 0a2.5 2.5 0 1 0 -5 0M494.66 469.77a2.5 2.5 0 1 0 5 0a2.5 2.5 0 1 0 -5 0M496.25 478.14a2.5 2.5 0 1 0 5 0a2.5 2.5 0 1 0 -5 0M497.85 481.3a2.5 2.5 0 1 0 5 0a2.5 2.5 0 1 0 -5 0M499.45 444.46a2.5 2.5 0 1 0 5 0a2.5 2.5 0 1 0 -5 0M501.04 436.05a2.5 2.5 0 1 0 5 0a2.5 2.5 0 1 0 -5 0M502.64 429.38a2.5 2.5 0 1 0 5 0a2.5 2.5 0 1 0 -5 0M504.23 432.17a2.5 2.5 0 1 0 5 0a2.5 2.5 0 1 0 -5 0M505.83 433.41a2.5 2.5 0 1 0 5 0a2.5 2.5 0 1 0 -5 0M507.42 435.5a2.5 2.5 0 1 0 5 0a2.5 2.5 0 1 0 -5 0M509.02 437.6a2.5 2.5 0 1 0 5 0a2.5 2.5 0 1 0 -5 0M510.61 432.48a2.5 2.5 0 1 0 5 0a2.5 2.5 0 1 0 -5 0M512.21 399.61a2.5 2.5 0 1 0 5 0a2.5 2.5 0 1 0 -5 0M513.8 394.19a2.5 2.5 0 1 0 5 0a2.5 2.5 0 1 0 -5 0M515.4 406.59a2.5 2.5 0 1 0 5 0a2.5 2.5 0 1 0 -5 0M516.99 408.14a2.5 2.5 0 1 0 5 0a2.5 2.5 0 1 0 -5 0M518.59 426.74a2.5 2.5 0 1 0 5 0a2.5 2.5 0 1 0 -5 0M520.19 410.47a2.5 2.5 0 1 0 5 0a2.5 2.5 0 1 0 -5 0M521.78 399.61a2.5 2.5 0 1 0 5 0a2.5 2.5 0 1 0 -5 0M523.38 386.43a2.5 2.5 0 1 0 5 0a2.5 2.5 0 1 0 -5 0M524.97 362.09a2.5 2.5 0 1 0 5 0a2.5 2.5 0 1 0 -5 0M526.57 373.26a2.5 2.5 0 1 0 5 0a2.5 2.5 0 1 0 -5 0M528.16 374.03a2.5 2.5 0 1 0 5 0a2.5 2.5 0 1 0 -5 0M529.76 377.91a2.5 2.5 0 1 0 5 0a2.5 2.5 0 1 0 -5 0M531.35 385.35a2.5 2.5 0 1 0 5 0a2.5 2.5 0 1 0 -5 0M532.95 377.6a2.5 2.5 0 1 0 5 0a2.5 2.5 0 1 0 -5 0" fill="#000"/>
<rect x="610" y="350" width="528" height="255" fill="#EBEBEB"/>
<path d="M635.5 350V605M685.5 350V605M735.5 350V605M783.5 350V605M831.5 350V605M881.5 350V605M930.5 350V605M980.5 350V605M1030.5 350V605M1080.5 350V605M1130.5 350V605M610 564.5H1138M610 506.5H1138M610 448.5H1138M610 391.5H1138" stroke="#fff" stroke-width="1" fill="none"/>
<path d="M611.5 350V605M660.5 350V605M710.5 350V605M761.5 350V605M806.5 350V605M856.5 350V605M905.5 350V605M956.5 350V605M1004.5 350V605M1055.5 350V605M1105.5 350V605M610 593.5H1138M610 535.5H1138M610 477.5H1138M610 419.5H1138M610 362.5H1138" stroke="#fff" stroke-width="1" fill="none"/>
<path d="M611.5 604.4v3.6M660.5 604.4v3.6M710.5 604.4v3.6M761.5 604.4v3.6M806.5 604.4v3.6M856.5 604.4v3.6M905.5 604.4v3.6M956.5 604.4v3.6M1004.5 604.4v3.6M1055.5 604.4v3.6M1105.5 604.4v3.6M610.6 593.5h-3.6M610.6 535.5h-3.6M610.6 477.5h-3.6M610.6 419.5h-3.6M610.6 362.5h-3.6" stroke="#333" stroke-width="1" fill="none"/>
<text transform="translate(611.45 616.1) scale(0.9 1)" class="ax" text-anchor="middle">20/11/01</text>
<text transform="translate(660.45 616.1) scale(0.9 1)" class="ax" text-anchor="middle">20/12/01</text>
<text transform="translate(710.45 616.1) scale(0.9 1)" class="ax" text-anchor="middle">21/01/01</text>
<text transform="translate(761.6 616.1) scale(0.9 1)" class="ax" text-anchor="middle">21/02/01</text>
<text transform="translate(806.5 616.1) scale(0.9 1)" class="ax" text-anchor="middle">21/03/01</text>
<text transform="translate(856.6 616.1) scale(0.9 1)" class="ax" text-anchor="middle">21/04/01</text>
<text transform="translate(905.4 616.1) scale(0.9 1)" class="ax" text-anchor="middle">21/05/01</text>
<text transform="translate(956.4 616.1) scale(0.9 1)" class="ax" text-anchor="middle">21/06/01</text>
<text transform="translate(1004.4 616.1) scale(0.9 1)" class="ax" text-anchor="middle">21/07/01</text>
<text transform="translate(1055.5 616.1) scale(0.9 1)" class="ax" text-anchor="middle">21/08/01</text>
<text transform="translate(1105.55 616.1) scale(0.9 1)" class="ax" text-anchor="middle">21/09/01</text>
<text transform="translate(605.2 597.02) scale(0.9 1)" class="ax" text-anchor="end">0</text>
<text transform="translate(605.2 539.02) scale(0.9 1)" class="ax" text-anchor="end">2</text>
<text transform="translate(605.2 481.02) scale(0.9 1)" class="ax" text-anchor="end">4</text>
<text transform="translate(605.2 423) scale(0.9 1)" class="ax" text-anchor="end">6</text>
<text transform="translate(605.2 366.02) scale(0.9 1)" class="ax" text-anchor="end">8</text>
<text x="874" y="628.7" class="at" text-anchor="middle">date</text>
<text x="610.3" y="342.7" class="ti">KY: New pediatric admissions for confirmed COVID</text>
<polyline points="634.15,535.47 635.78,535.47 637.4,535.47 639.03,506.47 640.66,564.47 642.28,535.47 643.91,564.47 645.53,535.47 647.16,506.47 648.78,535.47 650.41,535.47 652.03,593.47 653.66,506.47 655.28,564.47 656.91,535.47 658.53,593.47 660.16,506.47 661.78,477.47 663.41,535.47 665.03,564.47 666.66,477.47 668.29,535.47 669.91,535.47 671.54,593.47 673.16,535.47 674.79,564.47 676.41,564.47 678.04,593.47 679.66,564.47 681.29,564.47 682.91,477.47 684.54,593.47 686.16,564.47 687.79,506.47 689.41,535.47 691.04,593.47 692.66,564.47 694.29,564.47 695.92,506.47 697.54,535.47 699.17,593.47 700.79,564.47 702.42,564.47 704.04,593.47 705.67,593.47 707.29,506.47 708.92,593.47 710.54,564.47 712.17,448.47 713.79,564.47 715.42,593.47 717.04,564.47 718.67,593.47 720.3,506.47 721.92,535.47 723.55,506.47 725.17,593.47 726.8,564.47 728.42,564.47 730.05,477.47 731.67,564.47 733.3,564.47 734.92,564.47 736.55,564.47 738.17,593.47 739.8,535.47 741.42,535.47 743.05,593.47 744.67,593.47 746.3,535.47 747.93,535.47 749.55,535.47 751.18,593.47 752.8,535.47 754.43,506.47 756.05,477.47 757.68,564.47 759.3,593.47 760.93,564.47 762.55,593.47 764.18,535.47 765.8,564.47 767.43,564.47 769.05,564.47 770.68,448.47 772.3,593.47 773.93,535.47 775.56,564.47 777.18,564.47 778.81,593.47 780.43,593.47 782.06,593.47 783.68,564.47 785.31,564.47 786.93,535.47 788.56,564.47 790.18,564.47 791.81,593.47 793.43,535.47 795.06,593.47 796.68,535.47 798.31,564.47 799.93,593.47 801.56,564.47 803.19,535.47 804.81,593.47 806.44,564.47 808.06,564.47 809.69,593.47 811.31,564.47 812.94,593.47 814.56,564.47 816.19,535.47 817.81,593.47 819.44,535.47 821.06,593.47 822.69,564.47 824.31,564.47 825.94,564.47 827.56,593.47 829.19,564.47 830.82,535.47 832.44,593.47 834.07,506.47 835.69,564.47 837.32,593.47 838.94,564.47 840.57,564.47 842.19,535.47 843.82,564.47 845.44,535.47 847.07,564.47 848.69,564.47 850.32,593.47 851.94,535.47 853.57,535.47 855.19,564.47 856.82,564.47 858.45,593.47 860.07,593.47 861.7,593.47 863.32,593.47 864.95,593.47 866.57,593.47 868.2,593.47 869.82,593.47 871.45,506.47 873.07,593.47 874.7,564.47 876.32,564.47 877.95,564.47 879.57,593.47 881.2,564.47 882.83,593.47 884.45,593.47 886.08,593.47 887.7,593.47 889.33,535.47 890.95,564.47 892.58,593.47 894.2,593.47 895.83,593.47 897.45,535.47 899.08,535.47 900.7,593.47 902.33,593.47 903.95,593.47 905.58,564.47 907.2,564.47 908.83,593.47 910.46,593.47 912.08,564.47 913.71,564.47 915.33,593.47 916.96,564.47 918.58,593.47 920.21,593.47 921.83,593.47 923.46,593.47 925.08,564.47 926.71,535.47 928.33,535.47 929.96,506.47 931.58,564.47 933.21,535.47 934.83,564.47 936.46,564.47 938.09,535.47 939.71,593.47 941.34,593.47 942.96,535.47 944.59,535.47 946.21,564.47 947.84,593.47 949.46,593.47 951.09,593.47 952.71,593.47 954.34,564.47 955.96,593.47 957.59,564.47 959.21,593.47 960.84,564.47 962.46,564.47 964.09,564.47 965.72,564.47 967.34,564.47 968.97,564.47 970.59,535.47 972.22,564.47 973.84,593.47 975.47,593.47 977.09,593.47 978.72,593.47 980.34,564.47 981.97,593.47 983.59,593.47 985.22,593.47 986.84,593.47 988.47,564.47 990.09,593.47 991.72,593.47 993.35,593.47 994.97,564.47 996.6,593.47 998.22,593.47 999.85,564.47 1001.47,593.47 1003.1,593.47 1004.72,593.47 1006.35,564.47 1007.97,564.47 1009.6,593.47 1011.22,593.47 1012.85,564.47 1014.47,593.47 1016.1,593.47 1017.72,593.47 1019.35,593.47 1020.98,593.47 1022.6,593.47 1024.23,535.47 1025.85,535.47 1027.48,564.47 1029.1,564.47 1030.73,593.47 1032.35,593.47 1033.98,564.47 1035.6,593.47 1037.23,593.47 1038.85,593.47 1040.48,593.47 1042.1,506.47 1043.73,593.47 1045.36,564.47 1046.98,593.47 1048.61,564.47 1050.23,535.47 1051.86,564.47 1053.48,535.47 1055.11,593.47 1056.73,564.47 1058.36,593.47 1059.98,564.47 1061.61,593.47 1063.23,564.47 1064.86,564.47 1066.48,564.47 1068.11,506.47 1069.73,593.47 1071.36,535.47 1072.99,448.47 1074.61,419.47 1076.24,535.47 1077.86,448.47 1079.49,419.47 1081.11,564.47 1082.74,506.47 1084.36,448.47 1085.99,477.47 1087.61,535.47 1089.24,477.47 1090.86,477.47 1092.49,506.47 1094.11,477.47 1095.74,477.47 1097.36,506.47 1098.99,477.47 1100.62,419.47 1102.24,593.47 1103.87,477.47 1105.49,448.47 1107.12,477.47 1108.74,419.47 1110.37,506.47 1111.99,535.47 1113.62,361.47" fill="none" stroke="#000" stroke-width="1.1" stroke-linejoin="round"/>
<path d="M631.65 535.47a2.5 2.5 0 1 0 5 0a2.5 2.5 0 1 0 -5 0M633.28 535.47a2.5 2.5 0 1 0 5 0a2.5 2.5 0 1 0 -5 0M634.9 535.47a2.5 2.5 0 1 0 5 0a2.5 2.5 0 1 0 -5 0M636.53 506.47a2.5 2.5 0 1 0 5 0a2.5 2.5 0 1 0 -5 0M638.16 564.47a2.5 2.5 0 1 0 5 0a2.5 2.5 0 1 0 -5 0M639.78 535.47a2.5 2.5 0 1 0 5 0a2.5 2.5 0 1 0 -5 0M641.41 564.47a2.5 2.5 0 1 0 5 0a2.5 2.5 0 1 0 -5 0M643.03 535.47a2.5 2.5 0 1 0 5 0a2.5 2.5 0 1 0 -5 0M644.66 506.47a2.5 2.5 0 1 0 5 0a2.5 2.5 0 1 0 -5 0M646.28 535.47a2.5 2.5 0 1 0 5 0a2.5 2.5 0 1 0 -5 0M647.91 535.47a2.5 2.5 0 1 0 5 0a2.5 2.5 0 1 0 -5 0M649.53 593.47a2.5 2.5 0 1 0 5 0a2.5 2.5 0 1 0 -5 0M651.16 506.47a2.5 2.5 0 1 0 5 0a2.5 2.5 0 1 0 -5 0M652.78 564.47a2.5 2.5 0 1 0 5 0a2.5 2.5 0 1 0 -5 0M654.41 535.47a2.5 2.5 0 1 0 5 0a2.5 2.5 0 1 0 -5 0M656.03 593.47a2.5 2.5 0 1 0 5 0a2.5 2.5 0 1 0 -5 0M657.66 506.47a2.5 2.5 0 1 0 5 0a2.5 2.5 0 1 0 -5 0M659.28 477.47a2.5 2.5 0 1 0 5 0a2.5 2.5 0 1 0 -5 0M660.91 535.47a2.5 2.5 0 1 0 5 0a2.5 2.5 0 1 0 -5 0M662.53 564.47a2.5 2.5 0 1 0 5 0a2.5 2.5 0 1 0 -5 0M664.16 477.47a2.5 2.5 0 1 0 5 0a2.5 2.5 0 1 0 -5 0M665.79 535.47a2.5 2.5 0 1 0 5 0a2.5 2.5 0 1 0 -5 0M667.41 535.47a2.5 2.5 0 1 0 5 0a2.5 2.5 0 1 0 -5 0M669.04 593.47a2.5 2.5 0 1 0 5 0a2.5 2.5 0 1 0 -5 0M670.66 535.47a2.5 2.5 0 1 0 5 0a2.5 2.5 0 1 0 -5 0M672.29 564.47a2.5 2.5 0 1 0 5 0a2.5 2.5 0 1 0 -5 0M673.91 564.47a2.5 2.5 0 1 0 5 0a2.5 2.5 0 1 0 -5 0M675.54 593.47a2.5 2.5 0 1 0 5 0a2.5 2.5 0 1 0 -5 0M677.16 564.47a2.5 2.5 0 1 0 5 0a2.5 2.5 0 1 0 -5 0M678.79 564.47a2.5 2.5 0 1 0 5 0a2.5 2.5 0 1 0 -5 0M680.41 477.47a2.5 2.5 0 1 0 5 0a2.5 2.5 0 1 0 -5 0M682.04 593.47a2.5 2.5 0 1 0 5 0a2.5 2.5 0 1 0 -5 0M683.66 564.47a2.5 2.5 0 1 0 5 0a2.5 2.5 0 1 0 -5 0M685.29 506.47a2.5 2.5 0 1 0 5 0a2.5 2.5 0 1 0 -5 0M686.91 535.47a2.5 2.5 0 1 0 5 0a2.5 2.5 0 1 0 -5 0M688.54 593.47a2.5 2.5 0 1 0 5 0a2.5 2.5 0 1 0 -5 0M690.16 564.47a2.5 2.5 0 1 0 5 0a2.5 2.5 0 1 0 -5 0M691.79 564.47a2.5 2.5 0 1 0 5 0a2.5 2.5 0 1 0 -5 0M693.42 506.47a2.5 2.5 0 1 0 5 0a2.5 2.5 0 1 0 -5 0M695.04 535.47a2.5 2.5 0 1 0 5 0a2.5 2.5 0 1 0 -5 0M696.67 593.47a2.5 2.5 0 1 0 5 0a2.5 2.5 0 1 0 -5 0M698.29 564.47a2.5 2.5 0 1 0 5 0a2.5 2.5 0 1 0 -5 0M699.92 564.47a2.5 2.5 0 1 0 5 0a2.5 2.5 0 1 0 -5 0M701.54 593.47a2.5 2.5 0 1 0 5 0a2.5 2.5 0 1 0 -5 0M703.17 593.47a2.5 2.5 0 1 0 5 0a2.5 2.5 0 1 0 -5 0M704.79 506.47a2.5 2.5 0 1 0 5 0a2.5 2.5 0 1 0 -5 0M706.42 593.47a2.5 2.5 0 1 0 5 0a2.5 2.5 0 1 0 -5 0M708.04 564.47a2.5 2.5 0 1 0 5 0a2.5 2.5 0 1 0 -5 0M709.67 448.47a2.5 2.5 0 1 0 5 0a2.5 2.5 0 1 0 -5 0M711.29 564.47a2.5 2.5 0 1 0 5 0a2.5 2.5 0 1 0 -5 0M712.92 593.47a2.5 2.5 0 1 0 5 0a2.5 2.5 0 1 0 -5 0M714.54 564.47a2.5 2.5 0 1 0 5 0a2.5 2.5 0 1 0 -5 0M716.17 593.47a2.5 2.5 0 1 0 5 0a2.5 2.5 0 1 0 -5 0M717.8 506.47a2.5 2.5 0 1 0 5 0a2.5 2.5 0 1 0 -5 0M719.42 535.47a2.5 2.5 0 1 0 5 0a2.5 2.5 0 1 0 -5 0M721.05 506.47a2.5 2.5 0 1 0 5 0a2.5 2.5 0 1 0 -5 0M722.67 593.47a2.5 2.5 0 1 0 5 0a2.5 2.5 0 1 0 -5 0M724.3 564.47a2.5 2.5 0 1 0 5 0a2.5 2.5 0 1 0 -5 0M725.92 564.47a2.5 2.5 0 1 0 5 0a2.5 2.5 0 1 0 -5 0M727.55 477.47a2.5 2.5 0 1 0 5 0a2.5 2.5 0 1 0 -5 0M729.17 564.47a2.5 2.5 0 1 0 5 0a2.5 2.5 0 1 0 -5 0M730.8 564.47a2.5 2.5 0 1 0 5 0a2.5 2.5 0 1 0 -5 0M732.42 564.47a2.5 2.5 0 1 0 5 0a2.5 2.5 0 1 0 -5 0M734.05 564.47a2.5 2.5 0 1 0 5 0a2.5 2.5 0 1 0 -5 0M735.67 593.47a2.5 2.5 0 1 0 5 0a2.5 2.5 0 1 0 -5 0M737.3 535.47a2.5 2.5 0 1 0 5 0a2.5 2.5 0 1 0 -5 0M738.92 535.47a2.5 2.5 0 1 0 5 0a2.5 2.5 0 1 0 -5 0M740.55 593.47a2.5 2.5 0 1 0 5 0a2.5 2.5 0 1 0 -5 0M742.17 593.47a2.5 2.5 0 1 0 5 0a2.5 2.5 0 1 0 -5 0M743.8 535.47a2.5 2.5 0 1 0 5 0a2.5 2.5 0 1 0 -5 0M745.43 535.47a2.5 2.5 0 1 0 5 0a2.5 2.5 0 1 0 -5 0M747.05 535.47a2.5 2.5 0 1 0 5 0a2.5 2.5 0 1 0 -5 0M748.68 593.47a2.5 2.5 0 1 0 5 0a2.5 2.5 0 1 0 -5 0M750.3 535.47a2.5 2.5 0 1 0 5 0a2.5 2.5 0 1 0 -5 0M751.93 506.47a2.5 2.5 0 1 0 5 0a2.5 2.5 0 1 0 -5 0M753.55 477.47a2.5 2.5 0 1 0 5 0a2.5 2.5 0 1 0 -5 0M755.18 564.47a2.5 2.5 0 1 0 5 0a2.5 2.5 0 1 0 -5 0M756.8 593.47a2.5 2.5 0 1 0 5 0a2.5 2.5 0 1 0 -5 0M758.43 564.47a2.5 2.5 0 1 0 5 0a2.5 2.5 0 1 0 -5 0M760.05 593.47a2.5 2.5 0 1 0 5 0a2.5 2.5 0 1 0 -5 0M761.68 535.47a2.5 2.5 0 1 0 5 0a2.5 2.5 0 1 0 -5 0M763.3 564.47a2.5 2.5 0 1 0 5 0a2.5 2.5 0 1 0 -5 0M764.93 564.47a2.5 2.5 0 1 0 5 0a2.5 2.5 0 1 0 -5 0M766.55 564.47a2.5 2.5 0 1 0 5 0a2.5 2.5 0 1 0 -5 0M768.18 448.47a2.5 2.5 0 1 0 5 0a2.5 2.5 0 1 0 -5 0M769.8 593.47a2.5 2.5 0 1 0 5 0a2.5 2.5 0 1 0 -5 0M771.43 535.47a2.5 2.5 0 1 0 5 0a2.5 2.5 0 1 0 -5 0M773.06 564.47a2.5 2.5 0 1 0 5 0a2.5 2.5 0 1 0 -5 0M774.68 564.47a2.5 2.5 0 1 0 5 0a2.5 2.5 0 1 0 -5 0M776.31 593.47a2.5 2.5 0 1 0 5 0a2.5 2.5 0 1 0 -5 0M777.93 593.47a2.5 2.5 0 1 0 5 0a2.5 2.5 0 1 0 -5 0M779.56 593.47a2.5 2.5 0 1 0 5 0a2.5 2.5 0 1 0 -5 0M781.18 564.47a2.5 2.5 0 1 0 5 0a2.5 2.5 0 1 0 -5 0M782.81 564.47a2.5 2.5 0 1 0 5 0a2.5 2.5 0 1 0 -5 0M784.43 535.47a2.5 2.5 0 1 0 5 0a2.5 2.5 0 1 0 -5 0M786.06 564.47a2.5 2.5 0 1 0 5 0a2.5 2.5 0 1 0 -5 0M787.68 564.47a2.5 2.5 0 1 0 5 0a2.5 2.5 0 1 0 -5 0M789.31 593.47a2.5 2.5 0 1 0 5 0a2.5 2.5 0 1 0 -5 0M790.93 535.47a2.5 2.5 0 1 0 5 0a2.5 2.5 0 1 0 -5 0M792.56 593.47a2.5 2.5 0 1 0 5 0a2.5 2.5 0 1 0 -5 0M794.18 535.47a2.5 2.5 0 1 0 5 0a2.5 2.5 0 1 0 -5 0M795.81 564.47a2.5 2.5 0 1 0 5 0a2.5 2.5 0 1 0 -5 0M797.43 593.47a2.5 2.5 0 1 0 5 0a2.5 2.5 0 1 0 -5 0M799.06 564.47a2.5 2.5 0 1 0 5 0a2.5 2.5 0 1 0 -5 0M800.69 535.47a2.5 2.5 0 1 0 5 0a2.5 2.5 0 1 0 -5 0M802.31 593.47a2.5 2.5 0 1 0 5 0a2.5 2.5 0 1 0 -5 0M803.94 564.47a2.5 2.5 0 1 0 5 0a2.5 2.5 0 1 0 -5 0M805.56 564.47a2.5 2.5 0 1 0 5 0a2.5 2.5 0 1 0 -5 0M807.19 593.47a2.5 2.5 0 1 0 5 0a2.5 2.5 0 1 0 -5 0M808.81 564.47a2.5 2.5 0 1 0 5 0a2.5 2.5 0 1 0 -5 0M810.44 593.47a2.5 2.5 0 1 0 5 0a2.5 2.5 0 1 0 -5 0M812.06 564.47a2.5 2.5 0 1 0 5 0a2.5 2.5 0 1 0 -5 0M813.69 535.47a2.5 2.5 0 1 0 5 0a2.5 2.5 0 1 0 -5 0M815.31 593.47a2.5 2.5 0 1 0 5 0a2.5 2.5 0 1 0 -5 0M816.94 535.47a2.5 2.5 0 1 0 5 0a2.5 2.5 0 1 0 -5 0M818.56 593.47a2.5 2.5 0 1 0 5 0a2.5 2.5 0 1 0 -5 0M820.19 564.47a2.5 2.5 0 1 0 5 0a2.5 2.5 0 1 0 -5 0M821.81 564.47a2.5 2.5 0 1 0 5 0a2.5 2.5 0 1 0 -5 0M823.44 564.47a2.5 2.5 0 1 0 5 0a2.5 2.5 0 1 0 -5 0M825.06 593.47a2.5 2.5 0 1 0 5 0a2.5 2.5 0 1 0 -5 0M826.69 564.47a2.5 2.5 0 1 0 5 0a2.5 2.5 0 1 0 -5 0M828.32 535.47a2.5 2.5 0 1 0 5 0a2.5 2.5 0 1 0 -5 0M829.94 593.47a2.5 2.5 0 1 0 5 0a2.5 2.5 0 1 0 -5 0M831.57 506.47a2.5 2.5 0 1 0 5 0a2.5 2.5 0 1 0 -5 0M833.19 564.47a2.5 2.5 0 1 0 5 0a2.5 2.5 0 1 0 -5 0M834.82 593.47a2.5 2.5 0 1 0 5 0a2.5 2.5 0 1 0 -5 0M836.44 564.47a2.5 2.5 0 1 0 5 0a2.5 2.5 0 1 0 -5 0M838.07 564.47a2.5 2.5 0 1 0 5 0a2.5 2.5 0 1 0 -5 0M839.69 535.47a2.5 2.5 0 1 0 5 0a2.5 2.5 0 1 0 -5 0M841.32 564.47a2.5 2.5 0 1 0 5 0a2.5 2.5 0 1 0 -5 0M842.94 535.47a2.5 2.5 0 1 0 5 0a2.5 2.5 0 1 0 -5 0M844.57 564.47a2.5 2.5 0 1 0 5 0a2.5 2.5 0 1 0 -5 0M846.19 564.47a2.5 2.5 0 1 0 5 0a2.5 2.5 0 1 0 -5 0M847.82 593.47a2.5 2.5 0 1 0 5 0a2.5 2.5 0 1 0 -5 0M849.44 535.47a2.5 2.5 0 1 0 5 0a2.5 2.5 0 1 0 -5 0M851.07 535.47a2.5 2.5 0 1 0 5 0a2.5 2.5 0 1 0 -5 0M852.69 564.47a2.5 2.5 0 1 0 5 0a2.5 2.5 0 1 0 -5 0M854.32 564.47a2.5 2.5 0 1 0 5 0a2.5 2.5 0 1 0 -5 0M855.95 593.47a2.5 2.5 0 1 0 5 0a2.5 2.5 0 1 0 -5 0M857.57 593.47a2.5 2.5 0 1 0 5 0a2.5 2.5 0 1 0 -5 0M859.2 593.47a2.5 2.5 0 1 0 5 0a2.5 2.5 0 1 0 -5 0M860.82 593.47a2.5 2.5 0 1 0 5 0a2.5 2.5 0 1 0 -5 0M862.45 593.47a2.5 2.5 0 1 0 5 0a2.5 2.5 0 1 0 -5 0M864.07 593.47a2.5 2.5 0 1 0 5 0a2.5 2.5 0 1 0 -5 0M865.7 593.47a2.5 2.5 0 1 0 5 0a2.5 2.5 0 1 0 -5 0M867.32 593.47a2.5 2.5 0 1 0 5 0a2.5 2.5 0 1 0 -5 0M868.95 506.47a2.5 2.5 0 1 0 5 0a2.5 2.5 0 1 0 -5 0M870.57 593.47a2.5 2.5 0 1 0 5 0a2.5 2.5 0 1 0 -5 0M872.2 564.47a2.5 2.5 0 1 0 5 0a2.5 2.5 0 1 0 -5 0M873.82 564.47a2.5 2.5 0 1 0 5 0a2.5 2.5 0 1 0 -5 0M875.45 564.47a2.5 2.5 0 1 0 5 0a2.5 2.5 0 1 0 -5 0M877.07 593.47a2.5 2.5 0 1 0 5 0a2.5 2.5 0 1 0 -5 0M878.7 564.47a2.5 2.5 0 1 0 5 0a2.5 2.5 0 1 0 -5 0M880.33 593.47a2.5 2.5 0 1 0 5 0a2.5 2.5 0 1 0 -5 0M881.95 593.47a2.5 2.5 0 1 0 5 0a2.5 2.5 0 1 0 -5 0M883.58 593.47a2.5 2.5 0 1 0 5 0a2.5 2.5 0 1 0 -5 0M885.2 593.47a2.5 2.5 0 1 0 5 0a2.5 2.5 0 1 0 -5 0M886.83 535.47a2.5 2.5 0 1 0 5 0a2.5 2.5 0 1 0 -5 0M888.45 564.47a2.5 2.5 0 1 0 5 0a2.5 2.5 0 1 0 -5 0M890.08 593.47a2.5 2.5 0 1 0 5 0a2.5 2.5 0 1 0 -5 0M891.7 593.47a2.5 2.5 0 1 0 5 0a2.5 2.5 0 1 0 -5 0M893.33 593.47a2.5 2.5 0 1 0 5 0a2.5 2.5 0 1 0 -5 0M894.95 535.47a2.5 2.5 0 1 0 5 0a2.5 2.5 0 1 0 -5 0M896.58 535.47a2.5 2.5 0 1 0 5 0a2.5 2.5 0 1 0 -5 0M898.2 593.47a2.5 2.5 0 1 0 5 0a2.5 2.5 0 1 0 -5 0M899.83 593.47a2.5 2.5 0 1 0 5 0a2.5 2.5 0 1 0 -5 0M901.45 593.47a2.5 2.5 0 1 0 5 0a2.5 2.5 0 1 0 -5 0M903.08 564.47a2.5 2.5 0 1 0 5 0a2.5 2.5 0 1 0 -5 0M904.7 564.47a2.5 2.5 0 1 0 5 0a2.5 2.5 0 1 0 -5 0M906.33 593.47a2.5 2.5 0 1 0 5 0a2.5 2.5 0 1 0 -5 0M907.96 593.47a2.5 2.5 0 1 0 5 0a2.5 2.5 0 1 0 -5 0M909.58 564.47a2.5 2.5 0 1 0 5 0a2.5 2.5 0 1 0 -5 0M911.21 564.47a2.5 2.5 0 1 0 5 0a2.5 2.5 0 1 0 -5 0M912.83 593.47a2.5 2.5 0 1 0 5 0a2.5 2.5 0 1 0 -5 0M914.46 564.47a2.5 2.5 0 1 0 5 0a2.5 2.5 0 1 0 -5 0M916.08 593.47a2.5 2.5 0 1 0 5 0a2.5 2.5 0 1 0 -5 0M917.71 593.47a2.5 2.5 0 1 0 5 0a2.5 2.5 0 1 0 -5 0M919.33 593.47a2.5 2.5 0 1 0 5 0a2.5 2.5 0 1 0 -5 0M920.96 593.47a2.5 2.5 0 1 0 5 0a2.5 2.5 0 1 0 -5 0M922.58 564.47a2.5 2.5 0 1 0 5 0a2.5 2.5 0 1 0 -5 0M924.21 535.47a2.5 2.5 0 1 0 5 0a2.5 2.5 0 1 0 -5 0M925.83 535.47a2.5 2.5 0 1 0 5 0a2.5 2.5 0 1 0 -5 0M927.46 506.47a2.5 2.5 0 1 0 5 0a2.5 2.5 0 1 0 -5 0M929.08 564.47a2.5 2.5 0 1 0 5 0a2.5 2.5 0 1 0 -5 0M930.71 535.47a2.5 2.5 0 1 0 5 0a2.5 2.5 0 1 0 -5 0M932.33 564.47a2.5 2.5 0 1 0 5 0a2.5 2.5 0 1 0 -5 0M933.96 564.47a2.5 2.5 0 1 0 5 0a2.5 2.5 0 1 0 -5 0M935.59 535.47a2.5 2.5 0 1 0 5 0a2.5 2.5 0 1 0 -5 0M937.21 593.47a2.5 2.5 0 1 0 5 0a2.5 2.5 0 1 0 -5 0M938.84 593.47a2.5 2.5 0 1 0 5 0a2.5 2.5 0 1 0 -5 0M940.46 535.47a2.5 2.5 0 1 0 5 0a2.5 2.5 0 1 0 -5 0M942.09 535.47a2.5 2.5 0 1 0 5 0a2.5 2.5 0 1 0 -5 0M943.71 564.47a2.5 2.5 0 1 0 5 0a2.5 2.5 0 1 0 -5 0M945.34 593.47a2.5 2.5 0 1 0 5 0a2.5 2.5 0 1 0 -5 0M946.96 593.47a2.5 2.5 0 1 0 5 0a2.5 2.5 0 1 0 -5 0M948.59 593.47a2.5 2.5 0 1 0 5 0a2.5 2.5 0 1 0 -5 0M950.21 593.47a2.5 2.5 0 1 0 5 0a2.5 2.5 0 1 0 -5 0M951.84 564.47a2.5 2.5 0 1 0 5 0a2.5 2.5 0 1 0 -5 0M953.46 593.47a2.5 2.5 0 1 0 5 0a2.5 2.5 0 1 0 -5 0M955.09 564.47a2.5 2.5 0 1 0 5 0a2.5 2.5 0 1 0 -5 0M956.71 593.47a2.5 2.5 0 1 0 5 0a2.5 2.5 0 1 0 -5 0M958.34 564.47a2.5 2.5 0 1 0 5 0a2.5 2.5 0 1 0 -5 0M959.96 564.47a2.5 2.5 0 1 0 5 0a2.5 2.5 0 1 0 -5 0M961.59 564.47a2.5 2.5 0 1 0 5 0a2.5 2.5 0 1 0 -5 0M963.22 564.47a2.5 2.5 0 1 0 5 0a2.5 2.5 0 1 0 -5 0M964.84 564.47a2.5 2.5 0 1 0 5 0a2.5 2.5 0 1 0 -5 0M966.47 564.47a2.5 2.5 0 1 0 5 0a2.5 2.5 0 1 0 -5 0M968.09 535.47a2.5 2.5 0 1 0 5 0a2.5 2.5 0 1 0 -5 0M969.72 564.47a2.5 2.5 0 1 0 5 0a2.5 2.5 0 1 0 -5 0M971.34 593.47a2.5 2.5 0 1 0 5 0a2.5 2.5 0 1 0 -5 0M972.97 593.47a2.5 2.5 0 1 0 5 0a2.5 2.5 0 1 0 -5 0M974.59 593.47a2.5 2.5 0 1 0 5 0a2.5 2.5 0 1 0 -5 0M976.22 593.47a2.5 2.5 0 1 0 5 0a2.5 2.5 0 1 0 -5 0M977.84 564.47a2.5 2.5 0 1 0 5 0a2.5 2.5 0 1 0 -5 0M979.47 593.47a2.5 2.5 0 1 0 5 0a2.5 2.5 0 1 0 -5 0M981.09 593.47a2.5 2.5 0 1 0 5 0a2.5 2.5 0 1 0 -5 0M982.72 593.47a2.5 2.5 0 1 0 5 0a2.5 2.5 0 1 0 -5 0M984.34 593.47a2.5 2.5 0 1 0 5 0a2.5 2.5 0 1 0 -5 0M985.97 564.47a2.5 2.5 0 1 0 5 0a2.5 2.5 0 1 0 -5 0M987.59 593.47a2.5 2.5 0 1 0 5 0a2.5 2.5 0 1 0 -5 0M989.22 593.47a2.5 2.5 0 1 0 5 0a2.5 2.5 0 1 0 -5 0M990.85 593.47a2.5 2.5 0 1 0 5 0a2.5 2.5 0 1 0 -5 0M992.47 564.47a2.5 2.5 0 1 0 5 0a2.5 2.5 0 1 0 -5 0M994.1 593.47a2.5 2.5 0 1 0 5 0a2.5 2.5 0 1 0 -5 0M995.72 593.47a2.5 2.5 0 1 0 5 0a2.5 2.5 0 1 0 -5 0M997.35 564.47a2.5 2.5 0 1 0 5 0a2.5 2.5 0 1 0 -5 0M998.97 593.47a2.5 2.5 0 1 0 5 0a2.5 2.5 0 1 0 -5 0M1000.6 593.47a2.5 2.5 0 1 0 5 0a2.5 2.5 0 1 0 -5 0M1002.22 593.47a2.5 2.5 0 1 0 5 0a2.5 2.5 0 1 0 -5 0M1003.85 564.47a2.5 2.5 0 1 0 5 0a2.5 2.5 0 1 0 -5 0M1005.47 564.47a2.5 2.5 0 1 0 5 0a2.5 2.5 0 1 0 -5 0M1007.1 593.47a2.5 2.5 0 1 0 5 0a2.5 2.5 0 1 0 -5 0M1008.72 593.47a2.5 2.5 0 1 0 5 0a2.5 2.5 0 1 0 -5 0M1010.35 564.47a2.5 2.5 0 1 0 5 0a2.5 2.5 0 1 0 -5 0M1011.97 593.47a2.5 2.5 0 1 0 5 0a2.5 2.5 0 1 0 -5 0M1013.6 593.47a2.5 2.5 0 1 0 5 0a2.5 2.5 0 1 0 -5 0M1015.22 593.47a2.5 2.5 0 1 0 5 0a2.5 2.5 0 1 0 -5 0M1016.85 593.47a2.5 2.5 0 1 0 5 0a2.5 2.5 0 1 0 -5 0M1018.48 593.47a2.5 2.5 0 1 0 5 0a2.5 2.5 0 1 0 -5 0M1020.1 593.47a2.5 2.5 0 1 0 5 0a2.5 2.5 0 1 0 -5 0M1021.73 535.47a2.5 2.5 0 1 0 5 0a2.5 2.5 0 1 0 -5 0M1023.35 535.47a2.5 2.5 0 1 0 5 0a2.5 2.5 0 1 0 -5 0M1024.98 564.47a2.5 2.5 0 1 0 5 0a2.5 2.5 0 1 0 -5 0M1026.6 564.47a2.5 2.5 0 1 0 5 0a2.5 2.5 0 1 0 -5 0M1028.23 593.47a2.5 2.5 0 1 0 5 0a2.5 2.5 0 1 0 -5 0M1029.85 593.47a2.5 2.5 0 1 0 5 0a2.5 2.5 0 1 0 -5 0M1031.48 564.47a2.5 2.5 0 1 0 5 0a2.5 2.5 0 1 0 -5 0M1033.1 593.47a2.5 2.5 0 1 0 5 0a2.5 2.5 0 1 0 -5 0M1034.73 593.47a2.5 2.5 0 1 0 5 0a2.5 2.5 0 1 0 -5 0M1036.35 593.47a2.5 2.5 0 1 0 5 0a2.5 2.5 0 1 0 -5 0M1037.98 593.47a2.5 2.5 0 1 0 5 0a2.5 2.5 0 1 0 -5 0M1039.6 506.47a2.5 2.5 0 1 0 5 0a2.5 2.5 0 1 0 -5 0M1041.23 593.47a2.5 2.5 0 1 0 5 0a2.5 2.5 0 1 0 -5 0M1042.86 564.47a2.5 2.5 0 1 0 5 0a2.5 2.5 0 1 0 -5 0M1044.48 593.47a2.5 2.5 0 1 0 5 0a2.5 2.5 0 1 0 -5 0M1046.11 564.47a2.5 2.5 0 1 0 5 0a2.5 2.5 0 1 0 -5 0M1047.73 535.47a2.5 2.5 0 1 0 5 0a2.5 2.5 0 1 0 -5 0M1049.36 564.47a2.5 2.5 0 1 0 5 0a2.5 2.5 0 1 0 -5 0M1050.98 535.47a2.5 2.5 0 1 0 5 0a2.5 2.5 0 1 0 -5 0M1052.61 593.47a2.5 2.5 0 1 0 5 0a2.5 2.5 0 1 0 -5 0M1054.23 564.47a2.5 2.5 0 1 0 5 0a2.5 2.5 0 1 0 -5 0M1055.86 593.47a2.5 2.5 0 1 0 5 0a2.5 2.5 0 1 0 -5 0M1057.48 564.47a2.5 2.5 0 1 0 5 0a2.5 2.5 0 1 0 -5 0M1059.11 593.47a2.5 2.5 0 1 0 5 0a2.5 2.5 0 1 0 -5 0M1060.73 564.47a2.5 2.5 0 1 0 5 0a2.5 2.5 0 1 0 -5 0M1062.36 564.47a2.5 2.5 0 1 0 5 0a2.5 2.5 0 1 0 -5 0M1063.98 564.47a2.5 2.5 0 1 0 5 0a2.5 2.5 0 1 0 -5 0M1065.61 506.47a2.5 2.5 0 1 0 5 0a2.5 2.5 0 1 0 -5 0M1067.23 593.47a2.5 2.5 0 1 0 5 0a2.5 2.5 0 1 0 -5 0M1068.86 535.47a2.5 2.5 0 1 0 5 0a2.5 2.5 0 1 0 -5 0M1070.49 448.47a2.5 2.5 0 1 0 5 0a2.5 2.5 0 1 0 -5 0M1072.11 419.47a2.5 2.5 0 1 0 5 0a2.5 2.5 0 1 0 -5 0M1073.74 535.47a2.5 2.5 0 1 0 5 0a2.5 2.5 0 1 0 -5 0M1075.36 448.47a2.5 2.5 0 1 0 5 0a2.5 2.5 0 1 0 -5 0M1076.99 419.47a2.5 2.5 0 1 0 5 0a2.5 2.5 0 1 0 -5 0M1078.61 564.47a2.5 2.5 0 1 0 5 0a2.5 2.5 0 1 0 -5 0M1080.24 506.47a2.5 2.5 0 1 0 5 0a2.5 2.5 0 1 0 -5 0M1081.86 448.47a2.5 2.5 0 1 0 5 0a2.5 2.5 0 1 0 -5 0M1083.49 477.47a2.5 2.5 0 1 0 5 0a2.5 2.5 0 1 0 -5 0M1085.11 535.47a2.5 2.5 0 1 0 5 0a2.5 2.5 0 1 0 -5 0M1086.74 477.47a2.5 2.5 0 1 0 5 0a2.5 2.5 0 1 0 -5 0M1088.36 477.47a2.5 2.5 0 1 0 5 0a2.5 2.5 0 1 0 -5 0M1089.99 506.47a2.5 2.5 0 1 0 5 0a2.5 2.5 0 1 0 -5 0M1091.61 477.47a2.5 2.5 0 1 0 5 0a2.5 2.5 0 1 0 -5 0M1093.24 477.47a2.5 2.5 0 1 0 5 0a2.5 2.5 0 1 0 -5 0M1094.86 506.47a2.5 2.5 0 1 0 5 0a2.5 2.5 0 1 0 -5 0M1096.49 477.47a2.5 2.5 0 1 0 5 0a2.5 2.5 0 1 0 -5 0M1098.12 419.47a2.5 2.5 0 1 0 5 0a2.5 2.5 0 1 0 -5 0M1099.74 593.47a2.5 2.5 0 1 0 5 0a2.5 2.5 0 1 0 -5 0M1101.37 477.47a2.5 2.5 0 1 0 5 0a2.5 2.5 0 1 0 -5 0M1102.99 448.47a2.5 2.5 0 1 0 5 0a2.5 2.5 0 1 0 -5 0M1104.62 477.47a2.5 2.5 0 1 0 5 0a2.5 2.5 0 1 0 -5 0M1106.24 419.47a2.5 2.5 0 1 0 5 0a2.5 2.5 0 1 0 -5 0M1107.87 506.47a2.5 2.5 0 1 0 5 0a2.5 2.5 0 1 0 -5 0M1109.49 535.47a2.5 2.5 0 1 0 5 0a2.5 2.5 0 1 0 -5 0M1111.12 361.47a2.5 2.5 0 1 0 5 0a2.5 2.5 0 1 0 -5 0" fill="#000"/>
</svg>
</body></html>
